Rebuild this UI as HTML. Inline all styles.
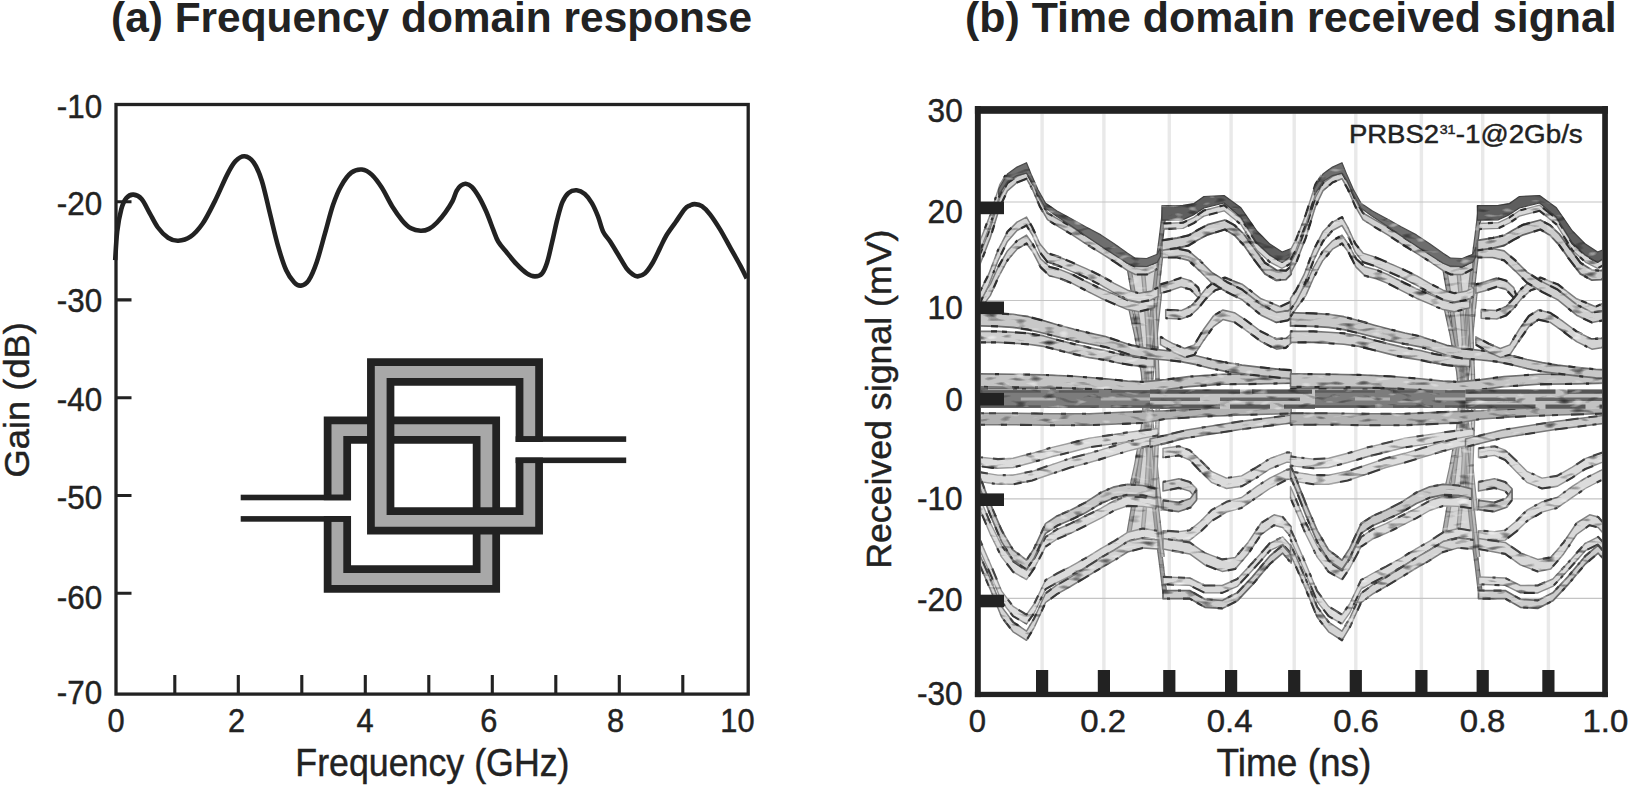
<!DOCTYPE html>
<html><head><meta charset="utf-8"><title>Frequency and time domain response</title>
<style>
html,body{margin:0;padding:0;background:#fff;}
body{width:1629px;height:786px;overflow:hidden;}
svg{display:block;font-family:"Liberation Sans",Arial,Helvetica,sans-serif;}
</style></head><body>
<svg width="1629" height="786" viewBox="0 0 1629 786">
<rect width="1629" height="786" fill="#fff"/>

<text transform="translate(111.08,32.40) scale(0.9923,1)" font-size="42.76" font-weight="bold" fill="#222222">(a) Frequency domain response</text>
<text transform="translate(965.06,32.40) scale(1.0025,1)" font-size="42.76" font-weight="bold" fill="#222222">(b) Time domain received signal</text>
<g fill="none" stroke="#222222" stroke-width="3.3">
<rect x="116.0" y="104.5" width="632.2" height="589.6"/>
<path d="M174.8,694.1V675.1M238.3,694.1V675.1M301.8,694.1V675.1M365.3,694.1V675.1M428.8,694.1V675.1M492.3,694.1V675.1M555.8,694.1V675.1M619.3,694.1V675.1M682.8,694.1V675.1M116.0,201.8H131.5M116.0,299.9H131.5M116.0,397.8H131.5M116.0,495.5H131.5M116.0,593.3H131.5" stroke-width="3.1"/>
</g>
<text transform="translate(56.81,117.90) scale(0.9550,1)" font-size="32.87" stroke="#222222" stroke-width="0.45" fill="#222222">-10</text>
<text transform="translate(56.81,214.90) scale(0.9550,1)" font-size="32.87" stroke="#222222" stroke-width="0.45" fill="#222222">-20</text>
<text transform="translate(56.81,312.40) scale(0.9550,1)" font-size="32.87" stroke="#222222" stroke-width="0.45" fill="#222222">-30</text>
<text transform="translate(56.81,411.30) scale(0.9550,1)" font-size="32.87" stroke="#222222" stroke-width="0.45" fill="#222222">-40</text>
<text transform="translate(56.81,508.70) scale(0.9550,1)" font-size="32.87" stroke="#222222" stroke-width="0.45" fill="#222222">-50</text>
<text transform="translate(56.81,608.80) scale(0.9550,1)" font-size="32.87" stroke="#222222" stroke-width="0.45" fill="#222222">-60</text>
<text transform="translate(56.81,704.00) scale(0.9550,1)" font-size="32.87" stroke="#222222" stroke-width="0.45" fill="#222222">-70</text>
<text transform="translate(107.41,731.80) scale(0.9500,1)" font-size="32.44" stroke="#222222" stroke-width="0.45" fill="#222222">0</text>
<text transform="translate(227.95,731.80) scale(0.9500,1)" font-size="32.44" stroke="#222222" stroke-width="0.45" fill="#222222">2</text>
<text transform="translate(356.53,731.80) scale(0.9500,1)" font-size="32.44" stroke="#222222" stroke-width="0.45" fill="#222222">4</text>
<text transform="translate(480.33,731.80) scale(0.9500,1)" font-size="32.44" stroke="#222222" stroke-width="0.45" fill="#222222">6</text>
<text transform="translate(606.95,731.80) scale(0.9500,1)" font-size="32.44" stroke="#222222" stroke-width="0.45" fill="#222222">8</text>
<text transform="translate(720.32,731.80) scale(0.9500,1)" font-size="32.44" stroke="#222222" stroke-width="0.45" fill="#222222">10</text>
<text transform="translate(295.35,776.40) scale(0.9105,1)" font-size="39.27" stroke="#222222" stroke-width="0.45" fill="#222222">Frequency (GHz)</text>
<text transform="translate(28.70,477.62) rotate(-90) scale(1.0552,1)" font-size="34.47" stroke="#222222" stroke-width="0.45" fill="#222222">Gain (dB)</text>
<path d="M115.2,260.1C115.5,255.4 116.2,240.1 117.2,231.6C118.2,223.1 119.8,214.8 121.3,209.2C122.8,203.6 124.4,200.4 126.4,198.0C128.4,195.6 131.0,194.4 133.5,194.6C136.0,194.8 138.9,195.9 141.6,199.0C144.3,202.1 147.1,208.6 149.8,213.3C152.5,218.1 154.9,223.4 157.9,227.5C160.9,231.6 164.7,235.5 168.1,237.7C171.5,239.9 174.6,241.0 178.3,240.8C182.0,240.6 186.4,239.6 190.5,236.7C194.6,233.8 198.6,229.4 202.7,223.5C206.8,217.6 210.8,209.2 214.9,201.1C219.0,192.9 223.8,181.2 227.2,174.6C230.6,168.0 232.4,164.4 235.3,161.4C238.2,158.4 241.4,156.1 244.5,156.3C247.6,156.5 250.7,158.3 253.6,162.4C256.5,166.5 259.1,172.2 261.8,180.7C264.5,189.2 267.2,202.4 269.9,213.3C272.6,224.2 275.3,236.4 278.0,245.9C280.7,255.4 283.5,264.2 286.2,270.3C288.9,276.4 291.9,279.9 294.3,282.5C296.7,285.1 298.4,285.9 300.8,285.6C303.2,285.3 306.0,284.4 308.6,280.5C311.2,276.6 314.0,270.0 316.7,262.2C319.4,254.4 322.2,243.2 324.9,233.7C327.6,224.2 330.3,213.1 333.0,205.1C335.7,197.1 338.1,191.2 341.2,185.8C344.2,180.4 347.9,175.3 351.3,172.6C354.8,169.9 358.5,169.2 361.9,169.5C365.3,169.8 368.4,171.5 371.7,174.6C375.0,177.7 378.5,182.5 381.9,187.8C385.3,193.1 388.7,200.8 392.1,206.2C395.5,211.6 399.1,216.7 402.2,220.4C405.3,224.1 407.9,226.6 411.0,228.3C414.1,230.0 417.6,230.7 420.6,230.8C423.6,230.9 426.3,230.3 429.0,228.9C431.7,227.5 434.3,225.3 437.0,222.5C439.7,219.7 442.8,215.9 445.4,212.3C448.0,208.7 450.6,204.7 452.5,201.1C454.4,197.5 455.2,193.4 456.6,190.9C458.0,188.4 459.1,187.0 460.6,185.8C462.1,184.6 463.8,183.6 465.7,183.8C467.6,184.0 469.6,184.6 471.8,186.8C474.0,189.0 476.6,192.9 479.0,197.0C481.4,201.1 483.7,205.9 486.1,211.3C488.5,216.7 491.2,224.5 493.2,229.6C495.2,234.7 496.1,238.1 498.3,241.8C500.5,245.5 503.3,248.3 506.4,252.0C509.4,255.7 513.2,260.6 516.6,264.2C520.0,267.8 523.8,271.4 526.8,273.4C529.8,275.4 532.3,276.4 534.9,276.4C537.5,276.4 540.0,275.8 542.1,273.4C544.2,271.0 545.5,267.5 547.2,262.2C548.9,256.9 550.5,248.9 552.2,241.8C553.9,234.7 555.6,226.0 557.3,219.4C559.0,212.8 560.5,206.5 562.4,202.1C564.3,197.7 566.1,194.9 568.5,192.9C570.9,190.9 574.0,190.1 576.7,190.3C579.4,190.5 582.3,191.9 584.8,194.0C587.3,196.1 589.7,199.4 591.9,203.1C594.1,206.8 596.1,211.6 598.0,216.3C599.9,221.1 601.1,227.3 603.1,231.6C605.1,235.8 607.8,237.9 610.3,241.8C612.8,245.7 615.7,250.6 618.4,255.0C621.1,259.4 624.1,265.1 626.5,268.3C628.9,271.5 630.8,273.0 632.7,274.4C634.6,275.8 635.7,276.6 637.7,276.4C639.7,276.2 642.4,275.8 644.9,273.4C647.4,271.0 650.5,266.4 653.0,262.2C655.5,257.9 657.9,252.3 660.1,247.9C662.3,243.5 663.7,239.9 666.2,235.7C668.8,231.5 672.3,226.9 675.4,222.5C678.5,218.1 682.2,212.0 684.6,209.2C687.0,206.4 688.0,206.4 689.7,205.6C691.4,204.8 692.7,204.0 694.7,204.1C696.7,204.2 699.4,204.5 701.9,206.2C704.4,207.9 707.0,210.4 710.0,214.3C713.0,218.2 716.8,224.0 720.2,229.6C723.6,235.2 727.0,241.8 730.4,247.9C733.8,254.0 737.9,261.1 740.6,266.2C743.3,271.3 745.7,276.4 746.7,278.4" fill="none" stroke="#222222" stroke-width="4.6" stroke-linejoin="round"/>
<path d="M337.4,500.3V430.05H486.4V579.0H337.4V516.1" fill="none" stroke="#222222" stroke-width="27.3" stroke-linejoin="miter"/>
<path d="M337.4,494.7V430.05H486.4V579.0H337.4V521.7" fill="none" stroke="#a8a8a8" stroke-width="11.8" stroke-linejoin="miter"/>
<rect x="240.7" y="494.7" width="110.3" height="5.6" fill="#222222"/>
<rect x="240.7" y="516.1" width="110.3" height="5.6" fill="#222222"/>
<path d="M529.3,441.90000000000003V372.0H380.7V520.9H529.3V457.5" fill="none" stroke="#222222" stroke-width="27.3" stroke-linejoin="miter"/>
<path d="M529.3,436.3V372.0H380.7V520.9H529.3V463.1" fill="none" stroke="#a8a8a8" stroke-width="11.8" stroke-linejoin="miter"/>
<rect x="515.6" y="436.3" width="110.6" height="5.6" fill="#222222"/>
<rect x="515.6" y="457.5" width="110.6" height="5.6" fill="#222222"/>
<clipPath id="eyeclip"><rect x="980.8" y="113.8" width="621.4000000000001" height="578.0"/></clipPath>
<filter id="soft" filterUnits="userSpaceOnUse" x="975" y="106" width="634" height="592" color-interpolation-filters="sRGB"><feGaussianBlur in="SourceGraphic" stdDeviation="0.6" result="b"/><feTurbulence type="fractalNoise" baseFrequency="0.07 0.22" numOctaves="1" seed="7" result="n"/><feColorMatrix in="n" type="matrix" values="0 0 0 0 0.1  0 0 0 0 0.1  0 0 0 0 0.1  3.2 0 0 0 -1.85" result="dk0"/><feComposite in="dk0" in2="b" operator="in" result="dk"/><feColorMatrix in="n" type="matrix" values="0 0 0 0 1  0 0 0 0 1  0 0 0 0 1  0 -3.2 0 0 1.2" result="lt0"/><feComposite in="lt0" in2="b" operator="in" result="lt"/><feMerge><feMergeNode in="b"/><feMergeNode in="dk"/><feMergeNode in="lt"/></feMerge></filter>
<path d="M1042.1,113.8V691.8M1103.9,113.8V691.8M1169.3,113.8V691.8M1231.1,113.8V691.8M1294.2,113.8V691.8M1355.8,113.8V691.8M1421.4,113.8V691.8M1482.7,113.8V691.8M1548.4,113.8V691.8" fill="none" stroke="#e9e9e9" stroke-width="3.4"/>
<path d="M980.8,202.0H1602.2M980.8,300.5H1602.2M980.8,399.5H1602.2M980.8,498.8H1602.2M980.8,598.3H1602.2" fill="none" stroke="#c4c4c4" stroke-width="1.2"/>
<g clip-path="url(#eyeclip)"><g filter="url(#soft)" stroke-linejoin="round">
<path d="M1164.6,591.2L1161.5,565.3L1158.5,542.4L1155.4,515.7L1151.6,481.4L1147.8,447.1L1145.1,412.7L1143.2,393.6" fill="none" stroke="#6f6f6f" stroke-width="5.0"/>
<path d="M1164.6,591.2L1161.5,565.3L1158.5,542.4L1155.4,515.7L1151.6,481.4L1147.8,447.1L1145.1,412.7L1143.2,393.6" fill="none" stroke="#9c9c9c" stroke-width="2.6"/>
<path d="M1162.7,556.9L1159.6,531.0L1156.6,504.3L1152.8,469.9L1149.3,435.6L1146.7,393.6" fill="none" stroke="#848484" stroke-width="4.5"/>
<path d="M1162.7,556.9L1159.6,531.0L1156.6,504.3L1152.8,469.9L1149.3,435.6L1146.7,393.6" fill="none" stroke="#bcbcbc" stroke-width="2.1"/>
<path d="M1160.4,511.1L1157.3,481.4L1154.3,450.9L1151.2,420.3L1149.7,393.6" fill="none" stroke="#8c8c8c" stroke-width="4.5"/>
<path d="M1160.4,511.1L1157.3,481.4L1154.3,450.9L1151.2,420.3L1149.7,393.6" fill="none" stroke="#c6c6c6" stroke-width="2.1"/>
<path d="M1127.6,540.5L1132.5,511.9L1137.5,481.4L1142.1,443.2L1145.1,412.7L1146.7,393.6" fill="none" stroke="#767676" stroke-width="5.0"/>
<path d="M1127.6,540.5L1132.5,511.9L1137.5,481.4L1142.1,443.2L1145.1,412.7L1146.7,393.6" fill="none" stroke="#aeaeae" stroke-width="2.6"/>
<path d="M1127.6,504.3L1136.0,466.1L1142.8,428.0L1145.9,393.6" fill="none" stroke="#858585" stroke-width="4.5"/>
<path d="M1127.6,504.3L1136.0,466.1L1142.8,428.0L1145.9,393.6" fill="none" stroke="#bfbfbf" stroke-width="2.1"/>
<path d="M1142.8,531.0L1145.9,496.6L1148.9,450.9L1151.2,393.6" fill="none" stroke="#909090" stroke-width="4.5"/>
<path d="M1142.8,531.0L1145.9,496.6L1148.9,450.9L1151.2,393.6" fill="none" stroke="#c9c9c9" stroke-width="2.1"/>
<path d="M1154.3,496.6L1155.8,466.1L1157.3,428.0L1158.1,393.6" fill="none" stroke="#909090" stroke-width="4.5"/>
<path d="M1154.3,496.6L1155.8,466.1L1157.3,428.0L1158.1,393.6" fill="none" stroke="#c9c9c9" stroke-width="2.1"/>
<path d="M1127.6,540.5L1158.5,542.4L1154.3,496.6L1151.2,450.9L1148.6,393.6L1144.8,393.6L1142.1,443.2L1137.5,481.4L1132.5,511.9Z" fill="#acacac" fill-opacity="0.5"/>
<path d="M975.0,413.3L1013.1,413.3L1051.3,413.7L1089.4,413.7L1127.6,412.1L1142.8,411.4L1165.7,410.8L1203.9,408.5L1242.0,407.0L1291.2,405.5L1291.2,413.5L1242.0,415.0L1203.9,416.6L1165.7,418.9L1142.8,422.9L1127.6,423.6L1089.4,425.2L1051.3,425.2L1013.1,424.8L975.0,424.8Z" fill="#b2b2b2" stroke="#787878" stroke-width="1.5"/>
<path d="M975.0,413.3L1013.1,413.3L1051.3,413.7L1089.4,413.7L1127.6,412.1L1142.8,411.4L1165.7,410.8L1203.9,408.5L1242.0,407.0L1291.2,405.5" fill="none" stroke="#444444" stroke-width="2.1" stroke-dasharray="9 5 7 16 6 13 12 18 5 16 4 18 7 22" stroke-dashoffset="0"/>
<path d="M975.0,424.8L1013.1,424.8L1051.3,425.2L1089.4,425.2L1127.6,423.6L1142.8,422.9L1165.7,418.9L1203.9,416.6L1242.0,415.0L1291.2,413.5" fill="none" stroke="#3a3a3a" stroke-width="2.1" stroke-dasharray="9 5 7 16 6 13 12 18 5 16 4 18 7 22" stroke-dashoffset="11"/>
<path d="M975.0,456.4L980.7,457.2L997.9,459.1L1013.1,458.3L1032.2,453.3L1051.3,447.6L1070.4,443.0L1089.4,438.1L1108.5,435.4L1127.6,432.4L1142.8,430.5L1158.1,428.5L1158.1,437.7L1142.8,439.7L1127.6,441.6L1108.5,444.6L1089.4,447.3L1070.4,452.2L1051.3,456.8L1032.2,462.5L1013.1,467.5L997.9,468.3L980.7,466.4L975.0,465.6Z" fill="#dddddd" stroke="#9c9c9c" stroke-width="1.4"/>
<path d="M975.0,456.4L980.7,457.2L997.9,459.1L1013.1,458.3L1032.2,453.3L1051.3,447.6L1070.4,443.0L1089.4,438.1L1108.5,435.4L1127.6,432.4L1142.8,430.5L1158.1,428.5" fill="none" stroke="#444444" stroke-width="2.1" stroke-dasharray="13 10 12 22 5 16 4 21 9 23 11 10 5 11" stroke-dashoffset="5"/>
<path d="M975.0,465.6L980.7,466.4L997.9,468.3L1013.1,467.5L1032.2,462.5L1051.3,456.8L1070.4,452.2L1089.4,447.3L1108.5,444.6L1127.6,441.6L1142.8,439.7L1158.1,437.7" fill="none" stroke="#3a3a3a" stroke-width="2.1" stroke-dasharray="13 10 12 22 5 16 4 21 9 23 11 10 5 11" stroke-dashoffset="16"/>
<path d="M975.0,471.7L980.7,472.4L997.9,475.1L1013.1,475.1L1032.2,471.3L1051.3,464.8L1070.4,458.3L1089.4,453.3L1108.5,447.6L1127.6,441.9L1142.8,438.1L1158.1,435.4L1158.1,444.6L1142.8,447.3L1127.6,451.1L1108.5,456.8L1089.4,462.5L1070.4,467.5L1051.3,474.0L1032.2,480.5L1013.1,484.3L997.9,484.3L980.7,481.6L975.0,480.9Z" fill="#dddddd" stroke="#9c9c9c" stroke-width="1.4"/>
<path d="M975.0,471.7L980.7,472.4L997.9,475.1L1013.1,475.1L1032.2,471.3L1051.3,464.8L1070.4,458.3L1089.4,453.3L1108.5,447.6L1127.6,441.9L1142.8,438.1L1158.1,435.4" fill="none" stroke="#444444" stroke-width="2.1" stroke-dasharray="4 11 8 15 3 19 8 5 11 18 3 5 13 10" stroke-dashoffset="10"/>
<path d="M975.0,480.9L980.7,481.6L997.9,484.3L1013.1,484.3L1032.2,480.5L1051.3,474.0L1070.4,467.5L1089.4,462.5L1108.5,456.8L1127.6,451.1L1142.8,447.3L1158.1,444.6" fill="none" stroke="#3a3a3a" stroke-width="2.1" stroke-dasharray="4 11 8 15 3 19 8 5 11 18 3 5 13 10" stroke-dashoffset="21"/>
<path d="M1150.0,439.0L1186.7,430.0L1239.7,421.5L1291.2,415.0L1291.2,423.0L1239.7,429.5L1186.7,438.0L1150.0,447.0Z" fill="#cccccc" stroke="#787878" stroke-width="1.5"/>
<path d="M1150.0,439.0L1186.7,430.0L1239.7,421.5L1291.2,415.0" fill="none" stroke="#444444" stroke-width="2.1" stroke-dasharray="12 10 7 8 13 18 4 26 12 10 9 12 11 24" stroke-dashoffset="15"/>
<path d="M1150.0,447.0L1186.7,438.0L1239.7,429.5L1291.2,423.0" fill="none" stroke="#3a3a3a" stroke-width="2.1" stroke-dasharray="12 10 7 8 13 18 4 26 12 10 9 12 11 24" stroke-dashoffset="26"/>
<path d="M975.0,486.5L980.7,499.9L990.3,522.8L1001.7,545.6L1013.1,561.5L1026.5,570.4L1034.1,558.7L1045.6,537.0L1057.0,529.3L1070.4,523.6L1085.6,516.0L1100.9,508.4L1114.2,500.7L1127.6,496.2L1142.8,497.2L1156.2,499.1L1156.2,508.3L1142.8,506.4L1127.6,505.9L1114.2,510.5L1100.9,518.1L1085.6,525.8L1070.4,533.4L1057.0,539.1L1045.6,546.7L1034.1,568.5L1026.5,579.6L1013.1,571.8L1001.7,557.1L990.3,534.3L980.7,511.4L975.0,498.0Z" fill="#dcdcdc" stroke="#989898" stroke-width="1.4"/>
<path d="M975.0,486.5L980.7,499.9L990.3,522.8L1001.7,545.6L1013.1,561.5L1026.5,570.4L1034.1,558.7L1045.6,537.0L1057.0,529.3L1070.4,523.6L1085.6,516.0L1100.9,508.4L1114.2,500.7L1127.6,496.2L1142.8,497.2L1156.2,499.1" fill="none" stroke="#444444" stroke-width="2.1" stroke-dasharray="8 6 6 8 10 11 11 26 5 13 12 18 11 9" stroke-dashoffset="20"/>
<path d="M975.0,498.0L980.7,511.4L990.3,534.3L1001.7,557.1L1013.1,571.8L1026.5,579.6L1034.1,568.5L1045.6,546.7L1057.0,539.1L1070.4,533.4L1085.6,525.8L1100.9,518.1L1114.2,510.5L1127.6,505.9L1142.8,506.4L1156.2,508.3" fill="none" stroke="#3a3a3a" stroke-width="2.1" stroke-dasharray="8 6 6 8 10 11 11 26 5 13 12 18 11 9" stroke-dashoffset="31"/>
<path d="M975.0,465.5L980.7,478.9L990.3,503.7L1001.7,530.4L1013.1,550.0L1026.5,560.2L1034.1,548.4L1045.6,523.6L1057.0,516.0L1070.4,510.3L1085.6,502.4L1100.9,492.5L1114.2,486.8L1127.6,484.4L1142.8,485.5L1156.2,488.8L1156.2,498.0L1142.8,495.3L1127.6,494.8L1114.2,497.7L1100.9,503.5L1085.6,512.7L1070.4,520.0L1057.0,525.8L1045.6,533.4L1034.1,558.2L1026.5,569.4L1013.1,560.4L1001.7,541.9L990.3,515.2L980.7,490.4L975.0,477.0Z" fill="#c8c8c8" stroke="#6e6e6e" stroke-width="1.7"/>
<path d="M975.0,465.5L980.7,478.9L990.3,503.7L1001.7,530.4L1013.1,550.0L1026.5,560.2L1034.1,548.4L1045.6,523.6L1057.0,516.0L1070.4,510.3L1085.6,502.4L1100.9,492.5L1114.2,486.8L1127.6,484.4L1142.8,485.5L1156.2,488.8" fill="none" stroke="#444444" stroke-width="2.1" stroke-dasharray="3 10 7 5 5 12 8 22 8 10 9 15 3 6" stroke-dashoffset="25"/>
<path d="M975.0,477.0L980.7,490.4L990.3,515.2L1001.7,541.9L1013.1,560.4L1026.5,569.4L1034.1,558.2L1045.6,533.4L1057.0,525.8L1070.4,520.0L1085.6,512.7L1100.9,503.5L1114.2,497.7L1127.6,494.8L1142.8,495.3L1156.2,498.0" fill="none" stroke="#3a3a3a" stroke-width="2.1" stroke-dasharray="3 10 7 5 5 12 8 22 8 10 9 15 3 6" stroke-dashoffset="36"/>
<path d="M1163.0,448.4L1178.9,446.2L1189.7,450.2L1200.6,460.5L1211.4,471.3L1226.5,478.1L1241.6,475.9L1256.8,467.2L1269.8,458.6L1287.1,452.4L1291.2,452.6L1291.2,462.4L1287.1,462.2L1269.8,469.0L1256.8,477.6L1241.6,486.3L1226.5,488.5L1211.4,482.3L1200.6,471.5L1189.7,460.0L1178.9,455.4L1163.0,457.6Z" fill="#dcdcdc" stroke="#929292" stroke-width="1.4"/>
<path d="M1163.0,448.4L1178.9,446.2L1189.7,450.2L1200.6,460.5L1211.4,471.3L1226.5,478.1L1241.6,475.9L1256.8,467.2L1269.8,458.6L1287.1,452.4L1291.2,452.6" fill="none" stroke="#444444" stroke-width="2.1" stroke-dasharray="3 19 4 17 5 5 8 11 13 21 4 20 12 6" stroke-dashoffset="30"/>
<path d="M1163.0,457.6L1178.9,455.4L1189.7,460.0L1200.6,471.5L1211.4,482.3L1226.5,488.5L1241.6,486.3L1256.8,477.6L1269.8,469.0L1287.1,462.2L1291.2,462.4" fill="none" stroke="#3a3a3a" stroke-width="2.1" stroke-dasharray="3 19 4 17 5 5 8 11 13 21 4 20 12 6" stroke-dashoffset="41"/>
<path d="M1163.0,481.9L1178.9,478.7L1189.7,481.9L1196.5,488.8L1196.5,499.2L1189.7,491.1L1178.9,487.9L1163.0,491.1Z" fill="#cecece" stroke="#7a7a7a" stroke-width="1.5"/>
<path d="M1163.0,481.9L1178.9,478.7L1189.7,481.9L1196.5,488.8" fill="none" stroke="#444444" stroke-width="2.1" stroke-dasharray="3 25 10 15 12 18 11 11 8 26 4 22 5 7" stroke-dashoffset="35"/>
<path d="M1163.0,491.1L1178.9,487.9L1189.7,491.1L1196.5,499.2" fill="none" stroke="#3a3a3a" stroke-width="2.1" stroke-dasharray="3 25 10 15 12 18 11 11 8 26 4 22 5 7" stroke-dashoffset="46"/>
<path d="M1163.0,500.4L1178.9,502.4L1190.5,498.4L1196.5,489.8L1196.5,500.2L1190.5,507.6L1178.9,511.6L1163.0,509.6Z" fill="#c4c4c4" stroke="#6c6c6c" stroke-width="1.6"/>
<path d="M1163.0,500.4L1178.9,502.4L1190.5,498.4L1196.5,489.8" fill="none" stroke="#444444" stroke-width="2.1" stroke-dasharray="10 10 8 12 6 10 5 14 5 22 4 21 3 9" stroke-dashoffset="40"/>
<path d="M1163.0,509.6L1178.9,511.6L1190.5,507.6L1196.5,500.2" fill="none" stroke="#3a3a3a" stroke-width="2.1" stroke-dasharray="10 10 8 12 6 10 5 14 5 22 4 21 3 9" stroke-dashoffset="51"/>
<path d="M1163.0,530.6L1178.9,531.6L1189.7,530.3L1200.6,521.3L1211.4,510.2L1226.5,501.8L1241.6,497.5L1256.8,486.4L1269.8,478.1L1287.1,469.7L1291.2,469.1L1291.2,478.9L1287.1,479.5L1269.8,488.5L1256.8,497.4L1241.6,507.9L1226.5,512.2L1211.4,521.2L1200.6,531.7L1189.7,540.1L1178.9,540.8L1163.0,539.8Z" fill="#dcdcdc" stroke="#929292" stroke-width="1.4"/>
<path d="M1163.0,530.6L1178.9,531.6L1189.7,530.3L1200.6,521.3L1211.4,510.2L1226.5,501.8L1241.6,497.5L1256.8,486.4L1269.8,478.1L1287.1,469.7L1291.2,469.1" fill="none" stroke="#444444" stroke-width="2.1" stroke-dasharray="3 26 10 10 12 8 7 21 9 7 10 18 5 12" stroke-dashoffset="45"/>
<path d="M1163.0,539.8L1178.9,540.8L1189.7,540.1L1200.6,531.7L1211.4,521.2L1226.5,512.2L1241.6,507.9L1256.8,497.4L1269.8,488.5L1287.1,479.5L1291.2,478.9" fill="none" stroke="#3a3a3a" stroke-width="2.1" stroke-dasharray="3 26 10 10 12 8 7 21 9 7 10 18 5 12" stroke-dashoffset="56"/>
<path d="M1163.0,538.6L1189.7,542.4L1204.9,552.9L1222.2,559.4L1235.2,557.5L1248.1,542.4L1261.1,523.0L1274.1,514.8L1282.7,517.0L1291.2,526.8L1291.2,537.2L1282.7,527.4L1274.1,525.2L1261.1,534.5L1248.1,553.9L1235.2,569.0L1222.2,571.4L1204.9,564.9L1189.7,553.9L1163.0,549.0Z" fill="#d8d8d8" stroke="#848484" stroke-width="1.5"/>
<path d="M1163.0,538.6L1189.7,542.4L1204.9,552.9L1222.2,559.4L1235.2,557.5L1248.1,542.4L1261.1,523.0L1274.1,514.8L1282.7,517.0L1291.2,526.8" fill="none" stroke="#444444" stroke-width="2.1" stroke-dasharray="5 5 8 15 5 17 5 10 12 26 11 12 9 21" stroke-dashoffset="50"/>
<path d="M1163.0,549.0L1189.7,553.9L1204.9,564.9L1222.2,571.4L1235.2,569.0L1248.1,553.9L1261.1,534.5L1274.1,525.2L1282.7,527.4L1291.2,537.2" fill="none" stroke="#3a3a3a" stroke-width="2.1" stroke-dasharray="5 5 8 15 5 17 5 10 12 26 11 12 9 21" stroke-dashoffset="61"/>
<path d="M975.0,529.1L980.7,541.6L990.3,563.8L1001.7,591.2L1013.1,606.4L1026.5,614.7L1034.1,604.0L1045.6,580.0L1057.0,573.5L1070.4,566.6L1085.6,558.2L1100.9,548.7L1114.2,541.1L1127.6,532.3L1142.8,528.5L1157.3,530.8L1157.3,540.0L1142.8,537.7L1127.6,541.5L1114.2,550.3L1100.9,557.9L1085.6,567.4L1070.4,575.8L1057.0,582.7L1045.6,589.2L1034.1,613.2L1026.5,623.9L1013.1,616.2L1001.7,601.6L990.3,574.1L980.7,552.0L975.0,539.4Z" fill="#dcdcdc" stroke="#949494" stroke-width="1.4"/>
<path d="M975.0,529.1L980.7,541.6L990.3,563.8L1001.7,591.2L1013.1,606.4L1026.5,614.7L1034.1,604.0L1045.6,580.0L1057.0,573.5L1070.4,566.6L1085.6,558.2L1100.9,548.7L1114.2,541.1L1127.6,532.3L1142.8,528.5L1157.3,530.8" fill="none" stroke="#444444" stroke-width="2.1" stroke-dasharray="9 15 4 7 13 19 6 25 12 23 6 9 11 12" stroke-dashoffset="55"/>
<path d="M975.0,539.4L980.7,552.0L990.3,574.1L1001.7,601.6L1013.1,616.2L1026.5,623.9L1034.1,613.2L1045.6,589.2L1057.0,582.7L1070.4,575.8L1085.6,567.4L1100.9,557.9L1114.2,550.3L1127.6,541.5L1142.8,537.7L1157.3,540.0" fill="none" stroke="#3a3a3a" stroke-width="2.1" stroke-dasharray="9 15 4 7 13 19 6 25 12 23 6 9 11 12" stroke-dashoffset="66"/>
<path d="M975.0,544.3L980.7,556.9L990.3,579.0L1001.7,606.9L1013.1,622.0L1026.5,631.1L1034.1,618.5L1045.6,593.3L1057.0,584.9L1070.4,577.3L1085.6,567.5L1100.9,557.7L1114.2,550.0L1127.6,541.6L1142.8,538.1L1158.1,539.9L1158.1,549.1L1142.8,547.9L1127.6,552.0L1114.2,560.4L1100.9,568.0L1085.6,577.3L1070.4,586.5L1057.0,594.1L1045.6,602.5L1034.1,627.7L1026.5,640.3L1013.1,631.8L1001.7,617.2L990.3,589.4L980.7,567.3L975.0,554.7Z" fill="#d4d4d4" stroke="#7e7e7e" stroke-width="1.5"/>
<path d="M975.0,544.3L980.7,556.9L990.3,579.0L1001.7,606.9L1013.1,622.0L1026.5,631.1L1034.1,618.5L1045.6,593.3L1057.0,584.9L1070.4,577.3L1085.6,567.5L1100.9,557.7L1114.2,550.0L1127.6,541.6L1142.8,538.1L1158.1,539.9" fill="none" stroke="#444444" stroke-width="2.1" stroke-dasharray="8 23 7 9 11 21 13 6 7 18 3 16 11 22" stroke-dashoffset="60"/>
<path d="M975.0,554.7L980.7,567.3L990.3,589.4L1001.7,617.2L1013.1,631.8L1026.5,640.3L1034.1,627.7L1045.6,602.5L1057.0,594.1L1070.4,586.5L1085.6,577.3L1100.9,568.0L1114.2,560.4L1127.6,552.0L1142.8,547.9L1158.1,549.1" fill="none" stroke="#3a3a3a" stroke-width="2.1" stroke-dasharray="8 23 7 9 11 21 13 6 7 18 3 16 11 22" stroke-dashoffset="71"/>
<path d="M1163.0,576.9L1189.7,578.0L1204.9,585.5L1222.2,585.5L1237.3,579.0L1252.5,562.8L1269.8,543.3L1282.7,536.9L1291.2,546.3L1291.2,553.7L1282.7,544.3L1269.8,550.7L1252.5,570.2L1237.3,586.4L1222.2,592.9L1204.9,592.9L1189.7,585.4L1163.0,584.3Z" fill="#dadada" stroke="#8a8a8a" stroke-width="1.4"/>
<path d="M1163.0,576.9L1189.7,578.0L1204.9,585.5L1222.2,585.5L1237.3,579.0L1252.5,562.8L1269.8,543.3L1282.7,536.9L1291.2,546.3" fill="none" stroke="#444444" stroke-width="2.1" stroke-dasharray="12 8 13 7 5 16 13 6 7 19 13 16 9 14" stroke-dashoffset="65"/>
<path d="M1163.0,584.3L1189.7,585.4L1204.9,592.9L1222.2,592.9L1237.3,586.4L1252.5,570.2L1269.8,550.7L1282.7,544.3L1291.2,553.7" fill="none" stroke="#3a3a3a" stroke-width="2.1" stroke-dasharray="12 8 13 7 5 16 13 6 7 19 13 16 9 14" stroke-dashoffset="76"/>
<path d="M1163.0,590.6L1189.7,590.6L1204.9,599.3L1222.2,600.4L1237.3,592.8L1252.5,576.6L1269.8,556.0L1282.7,545.2L1291.2,555.0L1291.2,563.0L1282.7,553.2L1269.8,564.0L1252.5,584.6L1237.3,600.8L1222.2,608.4L1204.9,607.3L1189.7,598.6L1163.0,598.6Z" fill="#cccccc" stroke="#6a6a6a" stroke-width="1.7"/>
<path d="M1163.0,590.6L1189.7,590.6L1204.9,599.3L1222.2,600.4L1237.3,592.8L1252.5,576.6L1269.8,556.0L1282.7,545.2L1291.2,555.0" fill="none" stroke="#444444" stroke-width="2.1" stroke-dasharray="10 24 7 14 10 20 3 13 10 5 6 16 5 5" stroke-dashoffset="70"/>
<path d="M1163.0,598.6L1189.7,598.6L1204.9,607.3L1222.2,608.4L1237.3,600.8L1252.5,584.6L1269.8,564.0L1282.7,553.2L1291.2,563.0" fill="none" stroke="#3a3a3a" stroke-width="2.1" stroke-dasharray="10 24 7 14 10 20 3 13 10 5 6 16 5 5" stroke-dashoffset="81"/>
<path d="M1164.6,208.8L1161.5,234.7L1158.5,257.6L1155.4,284.3L1151.6,318.6L1147.8,352.9L1145.1,387.3L1143.2,406.4" fill="none" stroke="#565656" stroke-width="5.0"/>
<path d="M1164.6,208.8L1161.5,234.7L1158.5,257.6L1155.4,284.3L1151.6,318.6L1147.8,352.9L1145.1,387.3L1143.2,406.4" fill="none" stroke="#8a8a8a" stroke-width="2.6"/>
<path d="M1162.7,243.1L1159.6,269.0L1156.6,295.7L1152.8,330.1L1149.3,364.4L1146.7,406.4" fill="none" stroke="#6e6e6e" stroke-width="4.5"/>
<path d="M1162.7,243.1L1159.6,269.0L1156.6,295.7L1152.8,330.1L1149.3,364.4L1146.7,406.4" fill="none" stroke="#b0b0b0" stroke-width="2.1"/>
<path d="M1160.4,288.9L1157.3,318.6L1154.3,349.1L1151.2,379.7L1149.7,406.4" fill="none" stroke="#787878" stroke-width="4.5"/>
<path d="M1160.4,288.9L1157.3,318.6L1154.3,349.1L1151.2,379.7L1149.7,406.4" fill="none" stroke="#bcbcbc" stroke-width="2.1"/>
<path d="M1127.6,259.5L1132.5,288.1L1137.5,318.6L1142.1,356.8L1145.1,387.3L1146.7,406.4" fill="none" stroke="#5e5e5e" stroke-width="5.0"/>
<path d="M1127.6,259.5L1132.5,288.1L1137.5,318.6L1142.1,356.8L1145.1,387.3L1146.7,406.4" fill="none" stroke="#a0a0a0" stroke-width="2.6"/>
<path d="M1127.6,295.7L1136.0,333.9L1142.8,372.0L1145.9,406.4" fill="none" stroke="#707070" stroke-width="4.5"/>
<path d="M1127.6,295.7L1136.0,333.9L1142.8,372.0L1145.9,406.4" fill="none" stroke="#b4b4b4" stroke-width="2.1"/>
<path d="M1142.8,269.0L1145.9,303.4L1148.9,349.1L1151.2,406.4" fill="none" stroke="#7c7c7c" stroke-width="4.5"/>
<path d="M1142.8,269.0L1145.9,303.4L1148.9,349.1L1151.2,406.4" fill="none" stroke="#c0c0c0" stroke-width="2.1"/>
<path d="M1154.3,303.4L1155.8,333.9L1157.3,372.0L1158.1,406.4" fill="none" stroke="#7c7c7c" stroke-width="4.5"/>
<path d="M1154.3,303.4L1155.8,333.9L1157.3,372.0L1158.1,406.4" fill="none" stroke="#c0c0c0" stroke-width="2.1"/>
<path d="M1127.6,259.5L1158.5,257.6L1154.3,303.4L1151.2,349.1L1148.6,406.4L1144.8,406.4L1142.1,356.8L1137.5,318.6L1132.5,288.1Z" fill="#acacac" fill-opacity="0.5"/>
<path d="M975.0,388.4L1051.3,388.4L1127.6,388.4L1142.8,388.4L1142.8,395.4L1127.6,395.4L1051.3,395.4L975.0,395.4Z" fill="#aaaaaa" stroke="#686868" stroke-width="1.4"/>
<path d="M975.0,388.4L1051.3,388.4L1127.6,388.4L1142.8,388.4" fill="none" stroke="#303030" stroke-width="2.2" stroke-dasharray="13 25 4 5 4 24 6 17 10 10 7 16 6 14" stroke-dashoffset="0"/>
<path d="M975.0,395.4L1051.3,395.4L1127.6,395.4L1142.8,395.4" fill="none" stroke="#303030" stroke-width="2.2" stroke-dasharray="13 25 4 5 4 24 6 17 10 10 7 16 6 14" stroke-dashoffset="11"/>
<path d="M975.0,373.9L980.7,373.9L1013.1,374.3L1043.7,374.9L1074.2,376.3L1104.7,378.7L1127.6,381.1L1142.8,381.9L1165.7,379.6L1188.6,376.6L1222.9,374.3L1261.1,373.9L1291.2,373.1L1291.2,383.1L1261.1,383.9L1222.9,384.3L1188.6,386.6L1165.7,389.6L1142.8,391.9L1127.6,391.1L1104.7,389.7L1074.2,388.3L1043.7,387.4L1013.1,387.3L980.7,386.9L975.0,386.9Z" fill="#c4c4c4" stroke="#6e6e6e" stroke-width="1.6"/>
<path d="M975.0,373.9L980.7,373.9L1013.1,374.3L1043.7,374.9L1074.2,376.3L1104.7,378.7L1127.6,381.1L1142.8,381.9L1165.7,379.6L1188.6,376.6L1222.9,374.3L1261.1,373.9L1291.2,373.1" fill="none" stroke="#303030" stroke-width="2.2" stroke-dasharray="8 17 4 24 7 16 3 18 6 10 4 9 7 12" stroke-dashoffset="5"/>
<path d="M975.0,386.9L980.7,386.9L1013.1,387.3L1043.7,387.4L1074.2,388.3L1104.7,389.7L1127.6,391.1L1142.8,391.9L1165.7,389.6L1188.6,386.6L1222.9,384.3L1261.1,383.9L1291.2,383.1" fill="none" stroke="#303030" stroke-width="2.2" stroke-dasharray="8 17 4 24 7 16 3 18 6 10 4 9 7 12" stroke-dashoffset="16"/>
<path d="M975.0,331.4L980.7,331.4L997.9,331.4L1013.1,332.2L1028.4,333.3L1043.7,335.9L1058.9,340.3L1074.2,344.1L1089.4,347.6L1104.7,350.5L1120.0,354.2L1131.4,356.1L1142.8,357.6L1154.3,357.6L1154.3,366.6L1142.8,366.6L1131.4,365.1L1120.0,363.2L1104.7,360.0L1089.4,357.6L1074.2,354.1L1058.9,350.3L1043.7,346.4L1028.4,344.3L1013.1,343.2L997.9,342.4L980.7,342.4L975.0,342.4Z" fill="#d0d0d0" stroke="#767676" stroke-width="1.6"/>
<path d="M975.0,331.4L980.7,331.4L997.9,331.4L1013.1,332.2L1028.4,333.3L1043.7,335.9L1058.9,340.3L1074.2,344.1L1089.4,347.6L1104.7,350.5L1120.0,354.2L1131.4,356.1L1142.8,357.6L1154.3,357.6" fill="none" stroke="#303030" stroke-width="2.2" stroke-dasharray="8 18 6 5 5 8 11 6 8 17 8 6 6 8" stroke-dashoffset="10"/>
<path d="M975.0,342.4L980.7,342.4L997.9,342.4L1013.1,343.2L1028.4,344.3L1043.7,346.4L1058.9,350.3L1074.2,354.1L1089.4,357.6L1104.7,360.0L1120.0,363.2L1131.4,365.1L1142.8,366.6L1154.3,366.6" fill="none" stroke="#303030" stroke-width="2.2" stroke-dasharray="8 18 6 5 5 8 11 6 8 17 8 6 6 8" stroke-dashoffset="21"/>
<path d="M975.0,312.9L980.7,312.9L997.9,313.3L1013.1,314.4L1028.4,316.7L1043.7,320.8L1058.9,325.2L1074.2,329.3L1089.4,333.0L1104.7,336.3L1120.0,341.5L1131.4,345.3L1146.7,348.3L1165.7,350.5L1181.0,352.6L1196.2,355.7L1211.5,359.5L1226.8,362.6L1242.0,365.1L1261.1,367.4L1280.2,369.3L1291.2,370.1L1291.2,378.6L1280.2,377.8L1261.1,375.9L1242.0,373.6L1226.8,371.6L1211.5,368.5L1196.2,364.7L1181.0,361.6L1165.7,360.0L1146.7,358.3L1131.4,355.3L1120.0,351.5L1104.7,346.8L1089.4,344.0L1074.2,340.8L1058.9,337.2L1043.7,333.3L1028.4,329.7L1013.1,327.4L997.9,326.3L980.7,325.9L975.0,325.9Z" fill="#c8c8c8" stroke="#6c6c6c" stroke-width="1.7"/>
<path d="M975.0,312.9L980.7,312.9L997.9,313.3L1013.1,314.4L1028.4,316.7L1043.7,320.8L1058.9,325.2L1074.2,329.3L1089.4,333.0L1104.7,336.3L1120.0,341.5L1131.4,345.3L1146.7,348.3L1165.7,350.5L1181.0,352.6L1196.2,355.7L1211.5,359.5L1226.8,362.6L1242.0,365.1L1261.1,367.4L1280.2,369.3L1291.2,370.1" fill="none" stroke="#303030" stroke-width="2.2" stroke-dasharray="10 9 12 11 7 23 11 16 5 14 3 7 4 21" stroke-dashoffset="15"/>
<path d="M975.0,325.9L980.7,325.9L997.9,326.3L1013.1,327.4L1028.4,329.7L1043.7,333.3L1058.9,337.2L1074.2,340.8L1089.4,344.0L1104.7,346.8L1120.0,351.5L1131.4,355.3L1146.7,358.3L1165.7,360.0L1181.0,361.6L1196.2,364.7L1211.5,368.5L1226.8,371.6L1242.0,373.6L1261.1,375.9L1280.2,377.8L1291.2,378.6" fill="none" stroke="#303030" stroke-width="2.2" stroke-dasharray="10 9 12 11 7 23 11 16 5 14 3 7 4 21" stroke-dashoffset="26"/>
<path d="M975.0,305.4L982.6,294.7L990.3,284.4L997.9,267.5L1007.4,250.9L1017.0,240.8L1026.5,235.1L1033.0,244.5L1040.6,258.7L1049.4,266.8L1060.8,269.9L1072.3,274.5L1085.6,281.3L1100.9,288.7L1114.2,294.4L1127.6,300.1L1139.0,302.7L1154.3,298.9L1154.3,307.8L1139.0,311.7L1127.6,309.6L1114.2,303.9L1100.9,298.2L1085.6,290.3L1072.3,283.4L1060.8,278.8L1049.4,275.8L1040.6,267.1L1033.0,252.3L1026.5,243.5L1017.0,249.2L1007.4,260.4L997.9,278.2L990.3,295.6L982.6,305.9L975.0,316.6Z" fill="#d4d4d4" stroke="#7e7e7e" stroke-width="1.5"/>
<path d="M975.0,305.4L982.6,294.7L990.3,284.4L997.9,267.5L1007.4,250.9L1017.0,240.8L1026.5,235.1L1033.0,244.5L1040.6,258.7L1049.4,266.8L1060.8,269.9L1072.3,274.5L1085.6,281.3L1100.9,288.7L1114.2,294.4L1127.6,300.1L1139.0,302.7L1154.3,298.9" fill="none" stroke="#303030" stroke-width="2.2" stroke-dasharray="6 22 11 26 9 21 3 21 5 23 11 15 12 10" stroke-dashoffset="20"/>
<path d="M975.0,316.6L982.6,305.9L990.3,295.6L997.9,278.2L1007.4,260.4L1017.0,249.2L1026.5,243.5L1033.0,252.3L1040.6,267.1L1049.4,275.8L1060.8,278.8L1072.3,283.4L1085.6,290.3L1100.9,298.2L1114.2,303.9L1127.6,309.6L1139.0,311.7L1154.3,307.8" fill="none" stroke="#303030" stroke-width="2.2" stroke-dasharray="6 22 11 26 9 21 3 21 5 23 11 15 12 10" stroke-dashoffset="31"/>
<path d="M975.0,298.5L980.7,290.1L988.4,274.9L997.9,250.4L1007.4,231.8L1017.0,222.1L1026.5,217.1L1032.2,227.0L1039.8,243.8L1047.5,253.1L1058.9,256.9L1072.3,262.6L1085.6,268.4L1100.9,275.7L1114.2,283.3L1127.6,290.2L1139.0,293.2L1150.5,291.3L1158.1,287.4L1158.1,296.4L1150.5,300.2L1139.0,302.1L1127.6,299.7L1114.2,292.9L1100.9,285.2L1085.6,277.3L1072.3,271.6L1058.9,265.9L1047.5,262.1L1039.8,252.2L1032.2,234.8L1026.5,225.5L1017.0,230.5L1007.4,241.4L997.9,261.0L988.4,286.1L980.7,301.3L975.0,309.7Z" fill="#d6d6d6" stroke="#828282" stroke-width="1.5"/>
<path d="M975.0,298.5L980.7,290.1L988.4,274.9L997.9,250.4L1007.4,231.8L1017.0,222.1L1026.5,217.1L1032.2,227.0L1039.8,243.8L1047.5,253.1L1058.9,256.9L1072.3,262.6L1085.6,268.4L1100.9,275.7L1114.2,283.3L1127.6,290.2L1139.0,293.2L1150.5,291.3L1158.1,287.4" fill="none" stroke="#303030" stroke-width="2.2" stroke-dasharray="10 18 10 5 8 26 3 17 8 26 11 26 12 5" stroke-dashoffset="25"/>
<path d="M975.0,309.7L980.7,301.3L988.4,286.1L997.9,261.0L1007.4,241.4L1017.0,230.5L1026.5,225.5L1032.2,234.8L1039.8,252.2L1047.5,262.1L1058.9,265.9L1072.3,271.6L1085.6,277.3L1100.9,285.2L1114.2,292.9L1127.6,299.7L1139.0,302.1L1150.5,300.2L1158.1,296.4" fill="none" stroke="#303030" stroke-width="2.2" stroke-dasharray="10 18 10 5 8 26 3 17 8 26 11 26 12 5" stroke-dashoffset="36"/>
<path d="M1160.4,284.4L1169.5,281.7L1181.0,277.9L1190.5,280.6L1198.2,287.6L1200.8,295.3L1200.8,305.3L1198.2,297.7L1190.5,289.5L1181.0,286.9L1169.5,290.7L1160.4,293.3Z" fill="#d2d2d2" stroke="#7e7e7e" stroke-width="1.5"/>
<path d="M1160.4,284.4L1169.5,281.7L1181.0,277.9L1190.5,280.6L1198.2,287.6L1200.8,295.3" fill="none" stroke="#303030" stroke-width="2.2" stroke-dasharray="8 20 10 6 8 15 9 14 5 17 12 24 3 23" stroke-dashoffset="30"/>
<path d="M1160.4,293.3L1169.5,290.7L1181.0,286.9L1190.5,289.5L1198.2,297.7L1200.8,305.3" fill="none" stroke="#303030" stroke-width="2.2" stroke-dasharray="8 20 10 6 8 15 9 14 5 17 12 24 3 23" stroke-dashoffset="41"/>
<path d="M1165.7,309.8L1181.0,310.6L1190.5,306.5L1198.2,298.3L1205.8,288.8L1215.3,280.7L1224.9,277.6L1242.0,284.2L1261.1,298.8L1280.2,306.7L1291.2,301.5L1291.2,310.5L1280.2,316.8L1261.1,309.4L1242.0,294.3L1224.9,287.1L1215.3,290.2L1205.8,298.9L1198.2,308.4L1190.5,315.5L1181.0,319.0L1165.7,318.2Z" fill="#d2d2d2" stroke="#7e7e7e" stroke-width="1.5"/>
<path d="M1165.7,309.8L1181.0,310.6L1190.5,306.5L1198.2,298.3L1205.8,288.8L1215.3,280.7L1224.9,277.6L1242.0,284.2L1261.1,298.8L1280.2,306.7L1291.2,301.5" fill="none" stroke="#303030" stroke-width="2.2" stroke-dasharray="4 20 4 8 12 10 3 6 7 11 11 8 10 20" stroke-dashoffset="35"/>
<path d="M1165.7,318.2L1181.0,319.0L1190.5,315.5L1198.2,308.4L1205.8,298.9L1215.3,290.2L1224.9,287.1L1242.0,294.3L1261.1,309.4L1280.2,316.8L1291.2,310.5" fill="none" stroke="#303030" stroke-width="2.2" stroke-dasharray="4 20 4 8 12 10 3 6 7 11 11 8 10 20" stroke-dashoffset="46"/>
<path d="M1160.4,336.8L1173.4,343.8L1184.8,348.5L1194.3,344.9L1203.9,329.0L1213.4,316.0L1222.9,310.0L1234.4,312.7L1245.8,320.1L1261.1,331.5L1276.4,339.1L1285.9,338.3L1291.2,334.0L1291.2,342.9L1285.9,347.8L1276.4,349.2L1261.1,341.6L1245.8,330.1L1234.4,322.2L1222.9,319.6L1213.4,326.6L1203.9,340.2L1194.3,354.9L1184.8,357.4L1173.4,352.2L1160.4,344.7Z" fill="#d4d4d4" stroke="#7e7e7e" stroke-width="1.5"/>
<path d="M1160.4,336.8L1173.4,343.8L1184.8,348.5L1194.3,344.9L1203.9,329.0L1213.4,316.0L1222.9,310.0L1234.4,312.7L1245.8,320.1L1261.1,331.5L1276.4,339.1L1285.9,338.3L1291.2,334.0" fill="none" stroke="#303030" stroke-width="2.2" stroke-dasharray="10 6 9 12 6 15 5 17 12 22 6 26 10 10" stroke-dashoffset="40"/>
<path d="M1160.4,344.7L1173.4,352.2L1184.8,357.4L1194.3,354.9L1203.9,340.2L1213.4,326.6L1222.9,319.6L1234.4,322.2L1245.8,330.1L1261.1,341.6L1276.4,349.2L1285.9,347.8L1291.2,342.9" fill="none" stroke="#303030" stroke-width="2.2" stroke-dasharray="10 6 9 12 6 15 5 17 12 22 6 26 10 10" stroke-dashoffset="51"/>
<path d="M1161.9,248.5L1177.2,248.5L1188.6,250.9L1200.1,260.7L1211.5,272.1L1226.8,281.9L1242.0,289.5L1261.1,304.5L1276.4,312.4L1287.8,310.8L1291.2,308.8L1291.2,317.8L1287.8,320.3L1276.4,322.5L1261.1,315.2L1242.0,299.6L1226.8,292.0L1211.5,282.7L1200.1,271.3L1188.6,260.4L1177.2,257.5L1161.9,257.5Z" fill="#d0d0d0" stroke="#787878" stroke-width="1.6"/>
<path d="M1161.9,248.5L1177.2,248.5L1188.6,250.9L1200.1,260.7L1211.5,272.1L1226.8,281.9L1242.0,289.5L1261.1,304.5L1276.4,312.4L1287.8,310.8L1291.2,308.8" fill="none" stroke="#303030" stroke-width="2.2" stroke-dasharray="6 22 12 22 13 11 5 26 10 5 13 11 4 7" stroke-dashoffset="45"/>
<path d="M1161.9,257.5L1177.2,257.5L1188.6,260.4L1200.1,271.3L1211.5,282.7L1226.8,292.0L1242.0,299.6L1261.1,315.2L1276.4,322.5L1287.8,320.3L1291.2,317.8" fill="none" stroke="#303030" stroke-width="2.2" stroke-dasharray="6 22 12 22 13 11 5 26 10 5 13 11 4 7" stroke-dashoffset="56"/>
<path d="M975.0,263.2L980.7,252.5L990.3,227.7L999.8,197.5L1007.4,183.1L1017.0,176.3L1026.5,172.5L1032.2,182.8L1039.8,199.7L1047.5,213.0L1058.9,219.6L1072.3,227.0L1085.6,235.7L1100.9,245.3L1114.2,253.7L1127.6,262.8L1135.2,266.6L1146.7,266.6L1157.3,261.3L1157.3,269.1L1146.7,274.5L1135.2,274.5L1127.6,270.7L1114.2,261.5L1100.9,253.1L1085.6,243.6L1072.3,234.8L1058.9,226.9L1047.5,219.7L1039.8,206.4L1032.2,188.9L1026.5,178.7L1017.0,182.5L1007.4,190.9L999.8,207.0L990.3,237.8L980.7,262.6L975.0,273.3Z" fill="#d0d0d0" stroke="#7a7a7a" stroke-width="1.5"/>
<path d="M975.0,263.2L980.7,252.5L990.3,227.7L999.8,197.5L1007.4,183.1L1017.0,176.3L1026.5,172.5L1032.2,182.8L1039.8,199.7L1047.5,213.0L1058.9,219.6L1072.3,227.0L1085.6,235.7L1100.9,245.3L1114.2,253.7L1127.6,262.8L1135.2,266.6L1146.7,266.6L1157.3,261.3" fill="none" stroke="#303030" stroke-width="2.2" stroke-dasharray="11 8 4 13 12 12 6 13 6 20 8 19 13 17" stroke-dashoffset="50"/>
<path d="M975.0,273.3L980.7,262.6L990.3,237.8L999.8,207.0L1007.4,190.9L1017.0,182.5L1026.5,178.7L1032.2,188.9L1039.8,206.4L1047.5,219.7L1058.9,226.9L1072.3,234.8L1085.6,243.6L1100.9,253.1L1114.2,261.5L1127.6,270.7L1135.2,274.5L1146.7,274.5L1157.3,269.1" fill="none" stroke="#303030" stroke-width="2.2" stroke-dasharray="11 8 4 13 12 12 6 13 6 20 8 19 13 17" stroke-dashoffset="61"/>
<path d="M1161.9,240.3L1177.2,238.0L1188.6,235.4L1198.2,229.7L1207.7,224.7L1224.9,220.0L1234.4,225.1L1243.9,234.1L1253.5,247.1L1264.9,262.7L1276.4,270.1L1285.9,270.7L1291.2,266.3L1291.2,274.1L1285.9,279.6L1276.4,280.2L1264.9,273.9L1253.5,258.9L1243.9,245.3L1234.4,235.2L1224.9,229.5L1207.7,234.8L1198.2,239.7L1188.6,245.5L1177.2,248.1L1161.9,250.4Z" fill="#cccccc" stroke="#646464" stroke-width="1.8"/>
<path d="M1161.9,240.3L1177.2,238.0L1188.6,235.4L1198.2,229.7L1207.7,224.7L1224.9,220.0L1234.4,225.1L1243.9,234.1L1253.5,247.1L1264.9,262.7L1276.4,270.1L1285.9,270.7L1291.2,266.3" fill="none" stroke="#303030" stroke-width="2.2" stroke-dasharray="11 12 13 19 11 8 11 5 11 22 13 16 6 17" stroke-dashoffset="55"/>
<path d="M1161.9,250.4L1177.2,248.1L1188.6,245.5L1198.2,239.7L1207.7,234.8L1224.9,229.5L1234.4,235.2L1243.9,245.3L1253.5,258.9L1264.9,273.9L1276.4,280.2L1285.9,279.6L1291.2,274.1" fill="none" stroke="#303030" stroke-width="2.2" stroke-dasharray="11 12 13 19 11 8 11 5 11 22 13 16 6 17" stroke-dashoffset="66"/>
<path d="M1163.4,223.5L1182.9,222.7L1194.0,217.4L1203.9,210.5L1224.1,205.2L1240.9,218.3L1256.9,243.5L1269.9,255.4L1282.1,262.1L1291.2,257.8L1291.2,263.4L1282.1,268.3L1269.9,262.1L1256.9,250.3L1240.9,224.4L1224.1,210.8L1203.9,216.1L1194.0,223.0L1182.9,228.3L1163.4,229.1Z" fill="#d8d8d8" stroke="#8a8a8a" stroke-width="1.3"/>
<path d="M1163.4,223.5L1182.9,222.7L1194.0,217.4L1203.9,210.5L1224.1,205.2L1240.9,218.3L1256.9,243.5L1269.9,255.4L1282.1,262.1L1291.2,257.8" fill="none" stroke="#303030" stroke-width="2.2" stroke-dasharray="10 26 4 18 10 8 8 12 10 14 9 23 4 10" stroke-dashoffset="60"/>
<path d="M1163.4,229.1L1182.9,228.3L1194.0,223.0L1203.9,216.1L1224.1,210.8L1240.9,224.4L1256.9,250.3L1269.9,262.1L1282.1,268.3L1291.2,263.4" fill="none" stroke="#303030" stroke-width="2.2" stroke-dasharray="10 26 4 18 10 8 8 12 10 14 9 23 4 10" stroke-dashoffset="71"/>
<path d="M975.0,249.9L980.7,239.2L990.3,214.4L999.8,184.6L1005.5,175.3L1005.5,184.2L999.8,194.7L990.3,224.5L980.7,249.3L975.0,260.0Z" fill="#d6d6d6" stroke="#888888" stroke-width="1.4"/>
<path d="M975.0,249.9L980.7,239.2L990.3,214.4L999.8,184.6L1005.5,175.3" fill="none" stroke="#303030" stroke-width="2.2" stroke-dasharray="6 24 9 13 12 25 5 25 3 21 7 5 10 15" stroke-dashoffset="65"/>
<path d="M975.0,260.0L980.7,249.3L990.3,224.5L999.8,194.7L1005.5,184.2" fill="none" stroke="#303030" stroke-width="2.2" stroke-dasharray="6 24 9 13 12 25 5 25 3 21 7 5 10 15" stroke-dashoffset="76"/>
<path d="M998.7,189.0L1007.4,174.1L1017.0,167.1L1026.5,162.7L1031.5,175.1L1037.9,189.5L1045.6,203.2L1057.0,211.0L1070.4,218.2L1085.6,226.8L1100.9,234.9L1114.2,243.7L1127.6,253.3L1135.2,258.2L1146.7,258.5L1157.3,254.3L1160.4,247.4L1160.4,256.4L1157.3,262.3L1146.7,266.5L1135.2,266.2L1127.6,263.3L1114.2,254.7L1100.9,245.9L1085.6,235.8L1070.4,225.2L1057.0,216.5L1045.6,208.2L1037.9,194.5L1031.5,180.6L1026.5,173.2L1017.0,175.6L1007.4,181.6L998.7,195.0Z" fill="#6e6e6e" stroke="#4a4a4a" stroke-width="1.2"/>
<path d="M1161.9,205.7L1182.9,205.3L1194.0,203.6L1203.9,196.5L1224.1,195.5L1240.9,207.8L1256.9,231.0L1269.9,244.1L1282.1,252.0L1291.2,248.5L1291.2,256.0L1282.1,262.5L1269.9,255.1L1256.9,243.0L1240.9,217.3L1224.1,203.0L1203.9,208.0L1194.0,214.6L1182.9,219.8L1161.9,220.2Z" fill="#5e5e5e" stroke="#404040" stroke-width="1.2"/>
<path d="M1480.1,591.2L1477.0,565.3L1474.0,542.4L1470.9,515.7L1467.1,481.4L1463.3,447.1L1460.6,412.7L1458.7,393.6" fill="none" stroke="#6f6f6f" stroke-width="5.0"/>
<path d="M1480.1,591.2L1477.0,565.3L1474.0,542.4L1470.9,515.7L1467.1,481.4L1463.3,447.1L1460.6,412.7L1458.7,393.6" fill="none" stroke="#9c9c9c" stroke-width="2.6"/>
<path d="M1478.2,556.9L1475.1,531.0L1472.1,504.3L1468.3,469.9L1464.8,435.6L1462.2,393.6" fill="none" stroke="#848484" stroke-width="4.5"/>
<path d="M1478.2,556.9L1475.1,531.0L1472.1,504.3L1468.3,469.9L1464.8,435.6L1462.2,393.6" fill="none" stroke="#bcbcbc" stroke-width="2.1"/>
<path d="M1475.9,511.1L1472.8,481.4L1469.8,450.9L1466.7,420.3L1465.2,393.6" fill="none" stroke="#8c8c8c" stroke-width="4.5"/>
<path d="M1475.9,511.1L1472.8,481.4L1469.8,450.9L1466.7,420.3L1465.2,393.6" fill="none" stroke="#c6c6c6" stroke-width="2.1"/>
<path d="M1443.1,540.5L1448.0,511.9L1453.0,481.4L1457.6,443.2L1460.6,412.7L1462.2,393.6" fill="none" stroke="#767676" stroke-width="5.0"/>
<path d="M1443.1,540.5L1448.0,511.9L1453.0,481.4L1457.6,443.2L1460.6,412.7L1462.2,393.6" fill="none" stroke="#aeaeae" stroke-width="2.6"/>
<path d="M1443.1,504.3L1451.5,466.1L1458.3,428.0L1461.4,393.6" fill="none" stroke="#858585" stroke-width="4.5"/>
<path d="M1443.1,504.3L1451.5,466.1L1458.3,428.0L1461.4,393.6" fill="none" stroke="#bfbfbf" stroke-width="2.1"/>
<path d="M1458.3,531.0L1461.4,496.6L1464.4,450.9L1466.7,393.6" fill="none" stroke="#909090" stroke-width="4.5"/>
<path d="M1458.3,531.0L1461.4,496.6L1464.4,450.9L1466.7,393.6" fill="none" stroke="#c9c9c9" stroke-width="2.1"/>
<path d="M1469.8,496.6L1471.3,466.1L1472.8,428.0L1473.6,393.6" fill="none" stroke="#909090" stroke-width="4.5"/>
<path d="M1469.8,496.6L1471.3,466.1L1472.8,428.0L1473.6,393.6" fill="none" stroke="#c9c9c9" stroke-width="2.1"/>
<path d="M1443.1,540.5L1474.0,542.4L1469.8,496.6L1466.7,450.9L1464.1,393.6L1460.3,393.6L1457.6,443.2L1453.0,481.4L1448.0,511.9Z" fill="#acacac" fill-opacity="0.5"/>
<path d="M1290.5,413.3L1328.6,413.3L1366.8,413.7L1404.9,413.7L1443.1,412.1L1458.3,411.4L1481.2,410.8L1519.4,408.5L1557.5,407.0L1606.7,405.5L1606.7,413.5L1557.5,415.0L1519.4,416.6L1481.2,418.9L1458.3,422.9L1443.1,423.6L1404.9,425.2L1366.8,425.2L1328.6,424.8L1290.5,424.8Z" fill="#b2b2b2" stroke="#787878" stroke-width="1.5"/>
<path d="M1290.5,413.3L1328.6,413.3L1366.8,413.7L1404.9,413.7L1443.1,412.1L1458.3,411.4L1481.2,410.8L1519.4,408.5L1557.5,407.0L1606.7,405.5" fill="none" stroke="#444444" stroke-width="2.1" stroke-dasharray="13 11 13 14 3 17 8 11 11 13 6 7 6 13" stroke-dashoffset="0"/>
<path d="M1290.5,424.8L1328.6,424.8L1366.8,425.2L1404.9,425.2L1443.1,423.6L1458.3,422.9L1481.2,418.9L1519.4,416.6L1557.5,415.0L1606.7,413.5" fill="none" stroke="#3a3a3a" stroke-width="2.1" stroke-dasharray="13 11 13 14 3 17 8 11 11 13 6 7 6 13" stroke-dashoffset="11"/>
<path d="M1290.5,456.4L1296.2,457.2L1313.4,459.1L1328.6,458.3L1347.7,453.3L1366.8,447.6L1385.9,443.0L1404.9,438.1L1424.0,435.4L1443.1,432.4L1458.3,430.5L1473.6,428.5L1473.6,437.7L1458.3,439.7L1443.1,441.6L1424.0,444.6L1404.9,447.3L1385.9,452.2L1366.8,456.8L1347.7,462.5L1328.6,467.5L1313.4,468.3L1296.2,466.4L1290.5,465.6Z" fill="#dddddd" stroke="#9c9c9c" stroke-width="1.4"/>
<path d="M1290.5,456.4L1296.2,457.2L1313.4,459.1L1328.6,458.3L1347.7,453.3L1366.8,447.6L1385.9,443.0L1404.9,438.1L1424.0,435.4L1443.1,432.4L1458.3,430.5L1473.6,428.5" fill="none" stroke="#444444" stroke-width="2.1" stroke-dasharray="11 5 3 9 12 23 5 15 6 9 12 24 7 21" stroke-dashoffset="5"/>
<path d="M1290.5,465.6L1296.2,466.4L1313.4,468.3L1328.6,467.5L1347.7,462.5L1366.8,456.8L1385.9,452.2L1404.9,447.3L1424.0,444.6L1443.1,441.6L1458.3,439.7L1473.6,437.7" fill="none" stroke="#3a3a3a" stroke-width="2.1" stroke-dasharray="11 5 3 9 12 23 5 15 6 9 12 24 7 21" stroke-dashoffset="16"/>
<path d="M1290.5,471.7L1296.2,472.4L1313.4,475.1L1328.6,475.1L1347.7,471.3L1366.8,464.8L1385.9,458.3L1404.9,453.3L1424.0,447.6L1443.1,441.9L1458.3,438.1L1473.6,435.4L1473.6,444.6L1458.3,447.3L1443.1,451.1L1424.0,456.8L1404.9,462.5L1385.9,467.5L1366.8,474.0L1347.7,480.5L1328.6,484.3L1313.4,484.3L1296.2,481.6L1290.5,480.9Z" fill="#dddddd" stroke="#9c9c9c" stroke-width="1.4"/>
<path d="M1290.5,471.7L1296.2,472.4L1313.4,475.1L1328.6,475.1L1347.7,471.3L1366.8,464.8L1385.9,458.3L1404.9,453.3L1424.0,447.6L1443.1,441.9L1458.3,438.1L1473.6,435.4" fill="none" stroke="#444444" stroke-width="2.1" stroke-dasharray="7 5 6 18 9 26 12 17 13 25 13 19 12 22" stroke-dashoffset="10"/>
<path d="M1290.5,480.9L1296.2,481.6L1313.4,484.3L1328.6,484.3L1347.7,480.5L1366.8,474.0L1385.9,467.5L1404.9,462.5L1424.0,456.8L1443.1,451.1L1458.3,447.3L1473.6,444.6" fill="none" stroke="#3a3a3a" stroke-width="2.1" stroke-dasharray="7 5 6 18 9 26 12 17 13 25 13 19 12 22" stroke-dashoffset="21"/>
<path d="M1465.5,439.0L1502.2,430.0L1555.2,421.5L1606.7,415.0L1606.7,423.0L1555.2,429.5L1502.2,438.0L1465.5,447.0Z" fill="#cccccc" stroke="#787878" stroke-width="1.5"/>
<path d="M1465.5,439.0L1502.2,430.0L1555.2,421.5L1606.7,415.0" fill="none" stroke="#444444" stroke-width="2.1" stroke-dasharray="7 21 7 22 4 26 10 20 13 10 9 6 4 8" stroke-dashoffset="15"/>
<path d="M1465.5,447.0L1502.2,438.0L1555.2,429.5L1606.7,423.0" fill="none" stroke="#3a3a3a" stroke-width="2.1" stroke-dasharray="7 21 7 22 4 26 10 20 13 10 9 6 4 8" stroke-dashoffset="26"/>
<path d="M1290.5,486.5L1296.2,499.9L1305.8,522.8L1317.2,545.6L1328.6,561.5L1342.0,570.4L1349.6,558.7L1361.1,537.0L1372.5,529.3L1385.9,523.6L1401.1,516.0L1416.4,508.4L1429.7,500.7L1443.1,496.2L1458.3,497.2L1471.7,499.1L1471.7,508.3L1458.3,506.4L1443.1,505.9L1429.7,510.5L1416.4,518.1L1401.1,525.8L1385.9,533.4L1372.5,539.1L1361.1,546.7L1349.6,568.5L1342.0,579.6L1328.6,571.8L1317.2,557.1L1305.8,534.3L1296.2,511.4L1290.5,498.0Z" fill="#dcdcdc" stroke="#989898" stroke-width="1.4"/>
<path d="M1290.5,486.5L1296.2,499.9L1305.8,522.8L1317.2,545.6L1328.6,561.5L1342.0,570.4L1349.6,558.7L1361.1,537.0L1372.5,529.3L1385.9,523.6L1401.1,516.0L1416.4,508.4L1429.7,500.7L1443.1,496.2L1458.3,497.2L1471.7,499.1" fill="none" stroke="#444444" stroke-width="2.1" stroke-dasharray="7 26 8 18 9 20 4 17 13 8 9 12 12 5" stroke-dashoffset="20"/>
<path d="M1290.5,498.0L1296.2,511.4L1305.8,534.3L1317.2,557.1L1328.6,571.8L1342.0,579.6L1349.6,568.5L1361.1,546.7L1372.5,539.1L1385.9,533.4L1401.1,525.8L1416.4,518.1L1429.7,510.5L1443.1,505.9L1458.3,506.4L1471.7,508.3" fill="none" stroke="#3a3a3a" stroke-width="2.1" stroke-dasharray="7 26 8 18 9 20 4 17 13 8 9 12 12 5" stroke-dashoffset="31"/>
<path d="M1290.5,465.5L1296.2,478.9L1305.8,503.7L1317.2,530.4L1328.6,550.0L1342.0,560.2L1349.6,548.4L1361.1,523.6L1372.5,516.0L1385.9,510.3L1401.1,502.4L1416.4,492.5L1429.7,486.8L1443.1,484.4L1458.3,485.5L1471.7,488.8L1471.7,498.0L1458.3,495.3L1443.1,494.8L1429.7,497.7L1416.4,503.5L1401.1,512.7L1385.9,520.0L1372.5,525.8L1361.1,533.4L1349.6,558.2L1342.0,569.4L1328.6,560.4L1317.2,541.9L1305.8,515.2L1296.2,490.4L1290.5,477.0Z" fill="#c8c8c8" stroke="#6e6e6e" stroke-width="1.7"/>
<path d="M1290.5,465.5L1296.2,478.9L1305.8,503.7L1317.2,530.4L1328.6,550.0L1342.0,560.2L1349.6,548.4L1361.1,523.6L1372.5,516.0L1385.9,510.3L1401.1,502.4L1416.4,492.5L1429.7,486.8L1443.1,484.4L1458.3,485.5L1471.7,488.8" fill="none" stroke="#444444" stroke-width="2.1" stroke-dasharray="10 9 13 5 8 10 13 13 5 17 5 14 8 25" stroke-dashoffset="25"/>
<path d="M1290.5,477.0L1296.2,490.4L1305.8,515.2L1317.2,541.9L1328.6,560.4L1342.0,569.4L1349.6,558.2L1361.1,533.4L1372.5,525.8L1385.9,520.0L1401.1,512.7L1416.4,503.5L1429.7,497.7L1443.1,494.8L1458.3,495.3L1471.7,498.0" fill="none" stroke="#3a3a3a" stroke-width="2.1" stroke-dasharray="10 9 13 5 8 10 13 13 5 17 5 14 8 25" stroke-dashoffset="36"/>
<path d="M1478.5,448.4L1494.4,446.2L1505.2,450.2L1516.1,460.5L1526.9,471.3L1542.0,478.1L1557.1,475.9L1572.3,467.2L1585.3,458.6L1602.6,452.4L1606.7,452.6L1606.7,462.4L1602.6,462.2L1585.3,469.0L1572.3,477.6L1557.1,486.3L1542.0,488.5L1526.9,482.3L1516.1,471.5L1505.2,460.0L1494.4,455.4L1478.5,457.6Z" fill="#dcdcdc" stroke="#929292" stroke-width="1.4"/>
<path d="M1478.5,448.4L1494.4,446.2L1505.2,450.2L1516.1,460.5L1526.9,471.3L1542.0,478.1L1557.1,475.9L1572.3,467.2L1585.3,458.6L1602.6,452.4L1606.7,452.6" fill="none" stroke="#444444" stroke-width="2.1" stroke-dasharray="12 15 9 6 8 12 12 19 3 16 13 17 10 9" stroke-dashoffset="30"/>
<path d="M1478.5,457.6L1494.4,455.4L1505.2,460.0L1516.1,471.5L1526.9,482.3L1542.0,488.5L1557.1,486.3L1572.3,477.6L1585.3,469.0L1602.6,462.2L1606.7,462.4" fill="none" stroke="#3a3a3a" stroke-width="2.1" stroke-dasharray="12 15 9 6 8 12 12 19 3 16 13 17 10 9" stroke-dashoffset="41"/>
<path d="M1478.5,481.9L1494.4,478.7L1505.2,481.9L1512.0,488.8L1512.0,499.2L1505.2,491.1L1494.4,487.9L1478.5,491.1Z" fill="#cecece" stroke="#7a7a7a" stroke-width="1.5"/>
<path d="M1478.5,481.9L1494.4,478.7L1505.2,481.9L1512.0,488.8" fill="none" stroke="#444444" stroke-width="2.1" stroke-dasharray="12 16 12 14 11 9 10 19 3 19 8 12 9 20" stroke-dashoffset="35"/>
<path d="M1478.5,491.1L1494.4,487.9L1505.2,491.1L1512.0,499.2" fill="none" stroke="#3a3a3a" stroke-width="2.1" stroke-dasharray="12 16 12 14 11 9 10 19 3 19 8 12 9 20" stroke-dashoffset="46"/>
<path d="M1478.5,500.4L1494.4,502.4L1506.0,498.4L1512.0,489.8L1512.0,500.2L1506.0,507.6L1494.4,511.6L1478.5,509.6Z" fill="#c4c4c4" stroke="#6c6c6c" stroke-width="1.6"/>
<path d="M1478.5,500.4L1494.4,502.4L1506.0,498.4L1512.0,489.8" fill="none" stroke="#444444" stroke-width="2.1" stroke-dasharray="6 24 11 15 10 14 12 12 9 15 4 9 5 22" stroke-dashoffset="40"/>
<path d="M1478.5,509.6L1494.4,511.6L1506.0,507.6L1512.0,500.2" fill="none" stroke="#3a3a3a" stroke-width="2.1" stroke-dasharray="6 24 11 15 10 14 12 12 9 15 4 9 5 22" stroke-dashoffset="51"/>
<path d="M1478.5,530.6L1494.4,531.6L1505.2,530.3L1516.1,521.3L1526.9,510.2L1542.0,501.8L1557.1,497.5L1572.3,486.4L1585.3,478.1L1602.6,469.7L1606.7,469.1L1606.7,478.9L1602.6,479.5L1585.3,488.5L1572.3,497.4L1557.1,507.9L1542.0,512.2L1526.9,521.2L1516.1,531.7L1505.2,540.1L1494.4,540.8L1478.5,539.8Z" fill="#dcdcdc" stroke="#929292" stroke-width="1.4"/>
<path d="M1478.5,530.6L1494.4,531.6L1505.2,530.3L1516.1,521.3L1526.9,510.2L1542.0,501.8L1557.1,497.5L1572.3,486.4L1585.3,478.1L1602.6,469.7L1606.7,469.1" fill="none" stroke="#444444" stroke-width="2.1" stroke-dasharray="3 26 4 17 5 16 4 11 13 11 3 8 8 13" stroke-dashoffset="45"/>
<path d="M1478.5,539.8L1494.4,540.8L1505.2,540.1L1516.1,531.7L1526.9,521.2L1542.0,512.2L1557.1,507.9L1572.3,497.4L1585.3,488.5L1602.6,479.5L1606.7,478.9" fill="none" stroke="#3a3a3a" stroke-width="2.1" stroke-dasharray="3 26 4 17 5 16 4 11 13 11 3 8 8 13" stroke-dashoffset="56"/>
<path d="M1478.5,538.6L1505.2,542.4L1520.4,552.9L1537.7,559.4L1550.7,557.5L1563.6,542.4L1576.6,523.0L1589.6,514.8L1598.2,517.0L1606.7,526.8L1606.7,537.2L1598.2,527.4L1589.6,525.2L1576.6,534.5L1563.6,553.9L1550.7,569.0L1537.7,571.4L1520.4,564.9L1505.2,553.9L1478.5,549.0Z" fill="#d8d8d8" stroke="#848484" stroke-width="1.5"/>
<path d="M1478.5,538.6L1505.2,542.4L1520.4,552.9L1537.7,559.4L1550.7,557.5L1563.6,542.4L1576.6,523.0L1589.6,514.8L1598.2,517.0L1606.7,526.8" fill="none" stroke="#444444" stroke-width="2.1" stroke-dasharray="12 12 13 22 12 13 12 23 7 16 8 17 3 23" stroke-dashoffset="50"/>
<path d="M1478.5,549.0L1505.2,553.9L1520.4,564.9L1537.7,571.4L1550.7,569.0L1563.6,553.9L1576.6,534.5L1589.6,525.2L1598.2,527.4L1606.7,537.2" fill="none" stroke="#3a3a3a" stroke-width="2.1" stroke-dasharray="12 12 13 22 12 13 12 23 7 16 8 17 3 23" stroke-dashoffset="61"/>
<path d="M1290.5,529.1L1296.2,541.6L1305.8,563.8L1317.2,591.2L1328.6,606.4L1342.0,614.7L1349.6,604.0L1361.1,580.0L1372.5,573.5L1385.9,566.6L1401.1,558.2L1416.4,548.7L1429.7,541.1L1443.1,532.3L1458.3,528.5L1472.8,530.8L1472.8,540.0L1458.3,537.7L1443.1,541.5L1429.7,550.3L1416.4,557.9L1401.1,567.4L1385.9,575.8L1372.5,582.7L1361.1,589.2L1349.6,613.2L1342.0,623.9L1328.6,616.2L1317.2,601.6L1305.8,574.1L1296.2,552.0L1290.5,539.4Z" fill="#dcdcdc" stroke="#949494" stroke-width="1.4"/>
<path d="M1290.5,529.1L1296.2,541.6L1305.8,563.8L1317.2,591.2L1328.6,606.4L1342.0,614.7L1349.6,604.0L1361.1,580.0L1372.5,573.5L1385.9,566.6L1401.1,558.2L1416.4,548.7L1429.7,541.1L1443.1,532.3L1458.3,528.5L1472.8,530.8" fill="none" stroke="#444444" stroke-width="2.1" stroke-dasharray="4 23 10 19 13 15 6 13 4 10 13 14 13 6" stroke-dashoffset="55"/>
<path d="M1290.5,539.4L1296.2,552.0L1305.8,574.1L1317.2,601.6L1328.6,616.2L1342.0,623.9L1349.6,613.2L1361.1,589.2L1372.5,582.7L1385.9,575.8L1401.1,567.4L1416.4,557.9L1429.7,550.3L1443.1,541.5L1458.3,537.7L1472.8,540.0" fill="none" stroke="#3a3a3a" stroke-width="2.1" stroke-dasharray="4 23 10 19 13 15 6 13 4 10 13 14 13 6" stroke-dashoffset="66"/>
<path d="M1290.5,544.3L1296.2,556.9L1305.8,579.0L1317.2,606.9L1328.6,622.0L1342.0,631.1L1349.6,618.5L1361.1,593.3L1372.5,584.9L1385.9,577.3L1401.1,567.5L1416.4,557.7L1429.7,550.0L1443.1,541.6L1458.3,538.1L1473.6,539.9L1473.6,549.1L1458.3,547.9L1443.1,552.0L1429.7,560.4L1416.4,568.0L1401.1,577.3L1385.9,586.5L1372.5,594.1L1361.1,602.5L1349.6,627.7L1342.0,640.3L1328.6,631.8L1317.2,617.2L1305.8,589.4L1296.2,567.3L1290.5,554.7Z" fill="#d4d4d4" stroke="#7e7e7e" stroke-width="1.5"/>
<path d="M1290.5,544.3L1296.2,556.9L1305.8,579.0L1317.2,606.9L1328.6,622.0L1342.0,631.1L1349.6,618.5L1361.1,593.3L1372.5,584.9L1385.9,577.3L1401.1,567.5L1416.4,557.7L1429.7,550.0L1443.1,541.6L1458.3,538.1L1473.6,539.9" fill="none" stroke="#444444" stroke-width="2.1" stroke-dasharray="11 9 5 21 6 13 6 13 8 6 4 9 6 6" stroke-dashoffset="60"/>
<path d="M1290.5,554.7L1296.2,567.3L1305.8,589.4L1317.2,617.2L1328.6,631.8L1342.0,640.3L1349.6,627.7L1361.1,602.5L1372.5,594.1L1385.9,586.5L1401.1,577.3L1416.4,568.0L1429.7,560.4L1443.1,552.0L1458.3,547.9L1473.6,549.1" fill="none" stroke="#3a3a3a" stroke-width="2.1" stroke-dasharray="11 9 5 21 6 13 6 13 8 6 4 9 6 6" stroke-dashoffset="71"/>
<path d="M1478.5,576.9L1505.2,578.0L1520.4,585.5L1537.7,585.5L1552.8,579.0L1568.0,562.8L1585.3,543.3L1598.2,536.9L1606.7,546.3L1606.7,553.7L1598.2,544.3L1585.3,550.7L1568.0,570.2L1552.8,586.4L1537.7,592.9L1520.4,592.9L1505.2,585.4L1478.5,584.3Z" fill="#dadada" stroke="#8a8a8a" stroke-width="1.4"/>
<path d="M1478.5,576.9L1505.2,578.0L1520.4,585.5L1537.7,585.5L1552.8,579.0L1568.0,562.8L1585.3,543.3L1598.2,536.9L1606.7,546.3" fill="none" stroke="#444444" stroke-width="2.1" stroke-dasharray="5 5 3 9 9 18 12 18 3 10 5 26 11 21" stroke-dashoffset="65"/>
<path d="M1478.5,584.3L1505.2,585.4L1520.4,592.9L1537.7,592.9L1552.8,586.4L1568.0,570.2L1585.3,550.7L1598.2,544.3L1606.7,553.7" fill="none" stroke="#3a3a3a" stroke-width="2.1" stroke-dasharray="5 5 3 9 9 18 12 18 3 10 5 26 11 21" stroke-dashoffset="76"/>
<path d="M1478.5,590.6L1505.2,590.6L1520.4,599.3L1537.7,600.4L1552.8,592.8L1568.0,576.6L1585.3,556.0L1598.2,545.2L1606.7,555.0L1606.7,563.0L1598.2,553.2L1585.3,564.0L1568.0,584.6L1552.8,600.8L1537.7,608.4L1520.4,607.3L1505.2,598.6L1478.5,598.6Z" fill="#cccccc" stroke="#6a6a6a" stroke-width="1.7"/>
<path d="M1478.5,590.6L1505.2,590.6L1520.4,599.3L1537.7,600.4L1552.8,592.8L1568.0,576.6L1585.3,556.0L1598.2,545.2L1606.7,555.0" fill="none" stroke="#444444" stroke-width="2.1" stroke-dasharray="5 20 4 16 4 9 3 7 8 9 8 15 6 14" stroke-dashoffset="70"/>
<path d="M1478.5,598.6L1505.2,598.6L1520.4,607.3L1537.7,608.4L1552.8,600.8L1568.0,584.6L1585.3,564.0L1598.2,553.2L1606.7,563.0" fill="none" stroke="#3a3a3a" stroke-width="2.1" stroke-dasharray="5 20 4 16 4 9 3 7 8 9 8 15 6 14" stroke-dashoffset="81"/>
<path d="M1480.1,208.8L1477.0,234.7L1474.0,257.6L1470.9,284.3L1467.1,318.6L1463.3,352.9L1460.6,387.3L1458.7,406.4" fill="none" stroke="#565656" stroke-width="5.0"/>
<path d="M1480.1,208.8L1477.0,234.7L1474.0,257.6L1470.9,284.3L1467.1,318.6L1463.3,352.9L1460.6,387.3L1458.7,406.4" fill="none" stroke="#8a8a8a" stroke-width="2.6"/>
<path d="M1478.2,243.1L1475.1,269.0L1472.1,295.7L1468.3,330.1L1464.8,364.4L1462.2,406.4" fill="none" stroke="#6e6e6e" stroke-width="4.5"/>
<path d="M1478.2,243.1L1475.1,269.0L1472.1,295.7L1468.3,330.1L1464.8,364.4L1462.2,406.4" fill="none" stroke="#b0b0b0" stroke-width="2.1"/>
<path d="M1475.9,288.9L1472.8,318.6L1469.8,349.1L1466.7,379.7L1465.2,406.4" fill="none" stroke="#787878" stroke-width="4.5"/>
<path d="M1475.9,288.9L1472.8,318.6L1469.8,349.1L1466.7,379.7L1465.2,406.4" fill="none" stroke="#bcbcbc" stroke-width="2.1"/>
<path d="M1443.1,259.5L1448.0,288.1L1453.0,318.6L1457.6,356.8L1460.6,387.3L1462.2,406.4" fill="none" stroke="#5e5e5e" stroke-width="5.0"/>
<path d="M1443.1,259.5L1448.0,288.1L1453.0,318.6L1457.6,356.8L1460.6,387.3L1462.2,406.4" fill="none" stroke="#a0a0a0" stroke-width="2.6"/>
<path d="M1443.1,295.7L1451.5,333.9L1458.3,372.0L1461.4,406.4" fill="none" stroke="#707070" stroke-width="4.5"/>
<path d="M1443.1,295.7L1451.5,333.9L1458.3,372.0L1461.4,406.4" fill="none" stroke="#b4b4b4" stroke-width="2.1"/>
<path d="M1458.3,269.0L1461.4,303.4L1464.4,349.1L1466.7,406.4" fill="none" stroke="#7c7c7c" stroke-width="4.5"/>
<path d="M1458.3,269.0L1461.4,303.4L1464.4,349.1L1466.7,406.4" fill="none" stroke="#c0c0c0" stroke-width="2.1"/>
<path d="M1469.8,303.4L1471.3,333.9L1472.8,372.0L1473.6,406.4" fill="none" stroke="#7c7c7c" stroke-width="4.5"/>
<path d="M1469.8,303.4L1471.3,333.9L1472.8,372.0L1473.6,406.4" fill="none" stroke="#c0c0c0" stroke-width="2.1"/>
<path d="M1443.1,259.5L1474.0,257.6L1469.8,303.4L1466.7,349.1L1464.1,406.4L1460.3,406.4L1457.6,356.8L1453.0,318.6L1448.0,288.1Z" fill="#acacac" fill-opacity="0.5"/>
<path d="M1290.5,388.4L1366.8,388.4L1443.1,388.4L1458.3,388.4L1458.3,395.4L1443.1,395.4L1366.8,395.4L1290.5,395.4Z" fill="#aaaaaa" stroke="#686868" stroke-width="1.4"/>
<path d="M1290.5,388.4L1366.8,388.4L1443.1,388.4L1458.3,388.4" fill="none" stroke="#303030" stroke-width="2.2" stroke-dasharray="6 22 8 17 4 15 5 13 10 22 5 22 5 17" stroke-dashoffset="0"/>
<path d="M1290.5,395.4L1366.8,395.4L1443.1,395.4L1458.3,395.4" fill="none" stroke="#303030" stroke-width="2.2" stroke-dasharray="6 22 8 17 4 15 5 13 10 22 5 22 5 17" stroke-dashoffset="11"/>
<path d="M1290.5,373.9L1296.2,373.9L1328.6,374.3L1359.2,374.9L1389.7,376.3L1420.2,378.7L1443.1,381.1L1458.3,381.9L1481.2,379.6L1504.1,376.6L1538.4,374.3L1576.6,373.9L1606.7,373.1L1606.7,383.1L1576.6,383.9L1538.4,384.3L1504.1,386.6L1481.2,389.6L1458.3,391.9L1443.1,391.1L1420.2,389.7L1389.7,388.3L1359.2,387.4L1328.6,387.3L1296.2,386.9L1290.5,386.9Z" fill="#c4c4c4" stroke="#6e6e6e" stroke-width="1.6"/>
<path d="M1290.5,373.9L1296.2,373.9L1328.6,374.3L1359.2,374.9L1389.7,376.3L1420.2,378.7L1443.1,381.1L1458.3,381.9L1481.2,379.6L1504.1,376.6L1538.4,374.3L1576.6,373.9L1606.7,373.1" fill="none" stroke="#303030" stroke-width="2.2" stroke-dasharray="3 19 5 13 5 26 5 22 12 13 7 14 3 21" stroke-dashoffset="5"/>
<path d="M1290.5,386.9L1296.2,386.9L1328.6,387.3L1359.2,387.4L1389.7,388.3L1420.2,389.7L1443.1,391.1L1458.3,391.9L1481.2,389.6L1504.1,386.6L1538.4,384.3L1576.6,383.9L1606.7,383.1" fill="none" stroke="#303030" stroke-width="2.2" stroke-dasharray="3 19 5 13 5 26 5 22 12 13 7 14 3 21" stroke-dashoffset="16"/>
<path d="M1290.5,331.4L1296.2,331.4L1313.4,331.4L1328.6,332.2L1343.9,333.3L1359.2,335.9L1374.4,340.3L1389.7,344.1L1404.9,347.6L1420.2,350.5L1435.5,354.2L1446.9,356.1L1458.3,357.6L1469.8,357.6L1469.8,366.6L1458.3,366.6L1446.9,365.1L1435.5,363.2L1420.2,360.0L1404.9,357.6L1389.7,354.1L1374.4,350.3L1359.2,346.4L1343.9,344.3L1328.6,343.2L1313.4,342.4L1296.2,342.4L1290.5,342.4Z" fill="#d0d0d0" stroke="#767676" stroke-width="1.6"/>
<path d="M1290.5,331.4L1296.2,331.4L1313.4,331.4L1328.6,332.2L1343.9,333.3L1359.2,335.9L1374.4,340.3L1389.7,344.1L1404.9,347.6L1420.2,350.5L1435.5,354.2L1446.9,356.1L1458.3,357.6L1469.8,357.6" fill="none" stroke="#303030" stroke-width="2.2" stroke-dasharray="12 16 9 22 6 17 4 8 13 22 5 19 11 10" stroke-dashoffset="10"/>
<path d="M1290.5,342.4L1296.2,342.4L1313.4,342.4L1328.6,343.2L1343.9,344.3L1359.2,346.4L1374.4,350.3L1389.7,354.1L1404.9,357.6L1420.2,360.0L1435.5,363.2L1446.9,365.1L1458.3,366.6L1469.8,366.6" fill="none" stroke="#303030" stroke-width="2.2" stroke-dasharray="12 16 9 22 6 17 4 8 13 22 5 19 11 10" stroke-dashoffset="21"/>
<path d="M1290.5,312.9L1296.2,312.9L1313.4,313.3L1328.6,314.4L1343.9,316.7L1359.2,320.8L1374.4,325.2L1389.7,329.3L1404.9,333.0L1420.2,336.3L1435.5,341.5L1446.9,345.3L1462.2,348.3L1481.2,350.5L1496.5,352.6L1511.7,355.7L1527.0,359.5L1542.3,362.6L1557.5,365.1L1576.6,367.4L1595.7,369.3L1606.7,370.1L1606.7,378.6L1595.7,377.8L1576.6,375.9L1557.5,373.6L1542.3,371.6L1527.0,368.5L1511.7,364.7L1496.5,361.6L1481.2,360.0L1462.2,358.3L1446.9,355.3L1435.5,351.5L1420.2,346.8L1404.9,344.0L1389.7,340.8L1374.4,337.2L1359.2,333.3L1343.9,329.7L1328.6,327.4L1313.4,326.3L1296.2,325.9L1290.5,325.9Z" fill="#c8c8c8" stroke="#6c6c6c" stroke-width="1.7"/>
<path d="M1290.5,312.9L1296.2,312.9L1313.4,313.3L1328.6,314.4L1343.9,316.7L1359.2,320.8L1374.4,325.2L1389.7,329.3L1404.9,333.0L1420.2,336.3L1435.5,341.5L1446.9,345.3L1462.2,348.3L1481.2,350.5L1496.5,352.6L1511.7,355.7L1527.0,359.5L1542.3,362.6L1557.5,365.1L1576.6,367.4L1595.7,369.3L1606.7,370.1" fill="none" stroke="#303030" stroke-width="2.2" stroke-dasharray="4 26 12 8 4 18 5 6 10 25 4 17 7 14" stroke-dashoffset="15"/>
<path d="M1290.5,325.9L1296.2,325.9L1313.4,326.3L1328.6,327.4L1343.9,329.7L1359.2,333.3L1374.4,337.2L1389.7,340.8L1404.9,344.0L1420.2,346.8L1435.5,351.5L1446.9,355.3L1462.2,358.3L1481.2,360.0L1496.5,361.6L1511.7,364.7L1527.0,368.5L1542.3,371.6L1557.5,373.6L1576.6,375.9L1595.7,377.8L1606.7,378.6" fill="none" stroke="#303030" stroke-width="2.2" stroke-dasharray="4 26 12 8 4 18 5 6 10 25 4 17 7 14" stroke-dashoffset="26"/>
<path d="M1290.5,305.4L1298.1,294.7L1305.8,284.4L1313.4,267.5L1322.9,250.9L1332.5,240.8L1342.0,235.1L1348.5,244.5L1356.1,258.7L1364.9,266.8L1376.3,269.9L1387.8,274.5L1401.1,281.3L1416.4,288.7L1429.7,294.4L1443.1,300.1L1454.5,302.7L1469.8,298.9L1469.8,307.8L1454.5,311.7L1443.1,309.6L1429.7,303.9L1416.4,298.2L1401.1,290.3L1387.8,283.4L1376.3,278.8L1364.9,275.8L1356.1,267.1L1348.5,252.3L1342.0,243.5L1332.5,249.2L1322.9,260.4L1313.4,278.2L1305.8,295.6L1298.1,305.9L1290.5,316.6Z" fill="#d4d4d4" stroke="#7e7e7e" stroke-width="1.5"/>
<path d="M1290.5,305.4L1298.1,294.7L1305.8,284.4L1313.4,267.5L1322.9,250.9L1332.5,240.8L1342.0,235.1L1348.5,244.5L1356.1,258.7L1364.9,266.8L1376.3,269.9L1387.8,274.5L1401.1,281.3L1416.4,288.7L1429.7,294.4L1443.1,300.1L1454.5,302.7L1469.8,298.9" fill="none" stroke="#303030" stroke-width="2.2" stroke-dasharray="5 21 11 12 5 25 4 18 5 13 6 8 13 15" stroke-dashoffset="20"/>
<path d="M1290.5,316.6L1298.1,305.9L1305.8,295.6L1313.4,278.2L1322.9,260.4L1332.5,249.2L1342.0,243.5L1348.5,252.3L1356.1,267.1L1364.9,275.8L1376.3,278.8L1387.8,283.4L1401.1,290.3L1416.4,298.2L1429.7,303.9L1443.1,309.6L1454.5,311.7L1469.8,307.8" fill="none" stroke="#303030" stroke-width="2.2" stroke-dasharray="5 21 11 12 5 25 4 18 5 13 6 8 13 15" stroke-dashoffset="31"/>
<path d="M1290.5,298.5L1296.2,290.1L1303.9,274.9L1313.4,250.4L1322.9,231.8L1332.5,222.1L1342.0,217.1L1347.7,227.0L1355.3,243.8L1363.0,253.1L1374.4,256.9L1387.8,262.6L1401.1,268.4L1416.4,275.7L1429.7,283.3L1443.1,290.2L1454.5,293.2L1466.0,291.3L1473.6,287.4L1473.6,296.4L1466.0,300.2L1454.5,302.1L1443.1,299.7L1429.7,292.9L1416.4,285.2L1401.1,277.3L1387.8,271.6L1374.4,265.9L1363.0,262.1L1355.3,252.2L1347.7,234.8L1342.0,225.5L1332.5,230.5L1322.9,241.4L1313.4,261.0L1303.9,286.1L1296.2,301.3L1290.5,309.7Z" fill="#d6d6d6" stroke="#828282" stroke-width="1.5"/>
<path d="M1290.5,298.5L1296.2,290.1L1303.9,274.9L1313.4,250.4L1322.9,231.8L1332.5,222.1L1342.0,217.1L1347.7,227.0L1355.3,243.8L1363.0,253.1L1374.4,256.9L1387.8,262.6L1401.1,268.4L1416.4,275.7L1429.7,283.3L1443.1,290.2L1454.5,293.2L1466.0,291.3L1473.6,287.4" fill="none" stroke="#303030" stroke-width="2.2" stroke-dasharray="13 17 11 23 7 11 8 17 7 5 7 24 9 19" stroke-dashoffset="25"/>
<path d="M1290.5,309.7L1296.2,301.3L1303.9,286.1L1313.4,261.0L1322.9,241.4L1332.5,230.5L1342.0,225.5L1347.7,234.8L1355.3,252.2L1363.0,262.1L1374.4,265.9L1387.8,271.6L1401.1,277.3L1416.4,285.2L1429.7,292.9L1443.1,299.7L1454.5,302.1L1466.0,300.2L1473.6,296.4" fill="none" stroke="#303030" stroke-width="2.2" stroke-dasharray="13 17 11 23 7 11 8 17 7 5 7 24 9 19" stroke-dashoffset="36"/>
<path d="M1475.9,284.4L1485.0,281.7L1496.5,277.9L1506.0,280.6L1513.7,287.6L1516.3,295.3L1516.3,305.3L1513.7,297.7L1506.0,289.5L1496.5,286.9L1485.0,290.7L1475.9,293.3Z" fill="#d2d2d2" stroke="#7e7e7e" stroke-width="1.5"/>
<path d="M1475.9,284.4L1485.0,281.7L1496.5,277.9L1506.0,280.6L1513.7,287.6L1516.3,295.3" fill="none" stroke="#303030" stroke-width="2.2" stroke-dasharray="9 20 4 20 10 12 12 6 8 10 11 11 6 7" stroke-dashoffset="30"/>
<path d="M1475.9,293.3L1485.0,290.7L1496.5,286.9L1506.0,289.5L1513.7,297.7L1516.3,305.3" fill="none" stroke="#303030" stroke-width="2.2" stroke-dasharray="9 20 4 20 10 12 12 6 8 10 11 11 6 7" stroke-dashoffset="41"/>
<path d="M1481.2,309.8L1496.5,310.6L1506.0,306.5L1513.7,298.3L1521.3,288.8L1530.8,280.7L1540.4,277.6L1557.5,284.2L1576.6,298.8L1595.7,306.7L1606.7,301.5L1606.7,310.5L1595.7,316.8L1576.6,309.4L1557.5,294.3L1540.4,287.1L1530.8,290.2L1521.3,298.9L1513.7,308.4L1506.0,315.5L1496.5,319.0L1481.2,318.2Z" fill="#d2d2d2" stroke="#7e7e7e" stroke-width="1.5"/>
<path d="M1481.2,309.8L1496.5,310.6L1506.0,306.5L1513.7,298.3L1521.3,288.8L1530.8,280.7L1540.4,277.6L1557.5,284.2L1576.6,298.8L1595.7,306.7L1606.7,301.5" fill="none" stroke="#303030" stroke-width="2.2" stroke-dasharray="12 22 6 10 5 10 13 5 4 9 3 6 7 8" stroke-dashoffset="35"/>
<path d="M1481.2,318.2L1496.5,319.0L1506.0,315.5L1513.7,308.4L1521.3,298.9L1530.8,290.2L1540.4,287.1L1557.5,294.3L1576.6,309.4L1595.7,316.8L1606.7,310.5" fill="none" stroke="#303030" stroke-width="2.2" stroke-dasharray="12 22 6 10 5 10 13 5 4 9 3 6 7 8" stroke-dashoffset="46"/>
<path d="M1475.9,336.8L1488.9,343.8L1500.3,348.5L1509.8,344.9L1519.4,329.0L1528.9,316.0L1538.4,310.0L1549.9,312.7L1561.3,320.1L1576.6,331.5L1591.9,339.1L1601.4,338.3L1606.7,334.0L1606.7,342.9L1601.4,347.8L1591.9,349.2L1576.6,341.6L1561.3,330.1L1549.9,322.2L1538.4,319.6L1528.9,326.6L1519.4,340.2L1509.8,354.9L1500.3,357.4L1488.9,352.2L1475.9,344.7Z" fill="#d4d4d4" stroke="#7e7e7e" stroke-width="1.5"/>
<path d="M1475.9,336.8L1488.9,343.8L1500.3,348.5L1509.8,344.9L1519.4,329.0L1528.9,316.0L1538.4,310.0L1549.9,312.7L1561.3,320.1L1576.6,331.5L1591.9,339.1L1601.4,338.3L1606.7,334.0" fill="none" stroke="#303030" stroke-width="2.2" stroke-dasharray="11 14 3 20 12 23 6 15 13 7 3 5 13 18" stroke-dashoffset="40"/>
<path d="M1475.9,344.7L1488.9,352.2L1500.3,357.4L1509.8,354.9L1519.4,340.2L1528.9,326.6L1538.4,319.6L1549.9,322.2L1561.3,330.1L1576.6,341.6L1591.9,349.2L1601.4,347.8L1606.7,342.9" fill="none" stroke="#303030" stroke-width="2.2" stroke-dasharray="11 14 3 20 12 23 6 15 13 7 3 5 13 18" stroke-dashoffset="51"/>
<path d="M1477.4,248.5L1492.7,248.5L1504.1,250.9L1515.6,260.7L1527.0,272.1L1542.3,281.9L1557.5,289.5L1576.6,304.5L1591.9,312.4L1603.3,310.8L1606.7,308.8L1606.7,317.8L1603.3,320.3L1591.9,322.5L1576.6,315.2L1557.5,299.6L1542.3,292.0L1527.0,282.7L1515.6,271.3L1504.1,260.4L1492.7,257.5L1477.4,257.5Z" fill="#d0d0d0" stroke="#787878" stroke-width="1.6"/>
<path d="M1477.4,248.5L1492.7,248.5L1504.1,250.9L1515.6,260.7L1527.0,272.1L1542.3,281.9L1557.5,289.5L1576.6,304.5L1591.9,312.4L1603.3,310.8L1606.7,308.8" fill="none" stroke="#303030" stroke-width="2.2" stroke-dasharray="4 14 10 7 4 17 5 19 8 20 13 9 13 21" stroke-dashoffset="45"/>
<path d="M1477.4,257.5L1492.7,257.5L1504.1,260.4L1515.6,271.3L1527.0,282.7L1542.3,292.0L1557.5,299.6L1576.6,315.2L1591.9,322.5L1603.3,320.3L1606.7,317.8" fill="none" stroke="#303030" stroke-width="2.2" stroke-dasharray="4 14 10 7 4 17 5 19 8 20 13 9 13 21" stroke-dashoffset="56"/>
<path d="M1290.5,263.2L1296.2,252.5L1305.8,227.7L1315.3,197.5L1322.9,183.1L1332.5,176.3L1342.0,172.5L1347.7,182.8L1355.3,199.7L1363.0,213.0L1374.4,219.6L1387.8,227.0L1401.1,235.7L1416.4,245.3L1429.7,253.7L1443.1,262.8L1450.7,266.6L1462.2,266.6L1472.8,261.3L1472.8,269.1L1462.2,274.5L1450.7,274.5L1443.1,270.7L1429.7,261.5L1416.4,253.1L1401.1,243.6L1387.8,234.8L1374.4,226.9L1363.0,219.7L1355.3,206.4L1347.7,188.9L1342.0,178.7L1332.5,182.5L1322.9,190.9L1315.3,207.0L1305.8,237.8L1296.2,262.6L1290.5,273.3Z" fill="#d0d0d0" stroke="#7a7a7a" stroke-width="1.5"/>
<path d="M1290.5,263.2L1296.2,252.5L1305.8,227.7L1315.3,197.5L1322.9,183.1L1332.5,176.3L1342.0,172.5L1347.7,182.8L1355.3,199.7L1363.0,213.0L1374.4,219.6L1387.8,227.0L1401.1,235.7L1416.4,245.3L1429.7,253.7L1443.1,262.8L1450.7,266.6L1462.2,266.6L1472.8,261.3" fill="none" stroke="#303030" stroke-width="2.2" stroke-dasharray="9 12 9 9 9 26 8 12 9 5 10 16 4 20" stroke-dashoffset="50"/>
<path d="M1290.5,273.3L1296.2,262.6L1305.8,237.8L1315.3,207.0L1322.9,190.9L1332.5,182.5L1342.0,178.7L1347.7,188.9L1355.3,206.4L1363.0,219.7L1374.4,226.9L1387.8,234.8L1401.1,243.6L1416.4,253.1L1429.7,261.5L1443.1,270.7L1450.7,274.5L1462.2,274.5L1472.8,269.1" fill="none" stroke="#303030" stroke-width="2.2" stroke-dasharray="9 12 9 9 9 26 8 12 9 5 10 16 4 20" stroke-dashoffset="61"/>
<path d="M1477.4,240.3L1492.7,238.0L1504.1,235.4L1513.7,229.7L1523.2,224.7L1540.4,220.0L1549.9,225.1L1559.4,234.1L1569.0,247.1L1580.4,262.7L1591.9,270.1L1601.4,270.7L1606.7,266.3L1606.7,274.1L1601.4,279.6L1591.9,280.2L1580.4,273.9L1569.0,258.9L1559.4,245.3L1549.9,235.2L1540.4,229.5L1523.2,234.8L1513.7,239.7L1504.1,245.5L1492.7,248.1L1477.4,250.4Z" fill="#cccccc" stroke="#646464" stroke-width="1.8"/>
<path d="M1477.4,240.3L1492.7,238.0L1504.1,235.4L1513.7,229.7L1523.2,224.7L1540.4,220.0L1549.9,225.1L1559.4,234.1L1569.0,247.1L1580.4,262.7L1591.9,270.1L1601.4,270.7L1606.7,266.3" fill="none" stroke="#303030" stroke-width="2.2" stroke-dasharray="8 8 12 13 4 21 6 5 4 17 13 15 11 20" stroke-dashoffset="55"/>
<path d="M1477.4,250.4L1492.7,248.1L1504.1,245.5L1513.7,239.7L1523.2,234.8L1540.4,229.5L1549.9,235.2L1559.4,245.3L1569.0,258.9L1580.4,273.9L1591.9,280.2L1601.4,279.6L1606.7,274.1" fill="none" stroke="#303030" stroke-width="2.2" stroke-dasharray="8 8 12 13 4 21 6 5 4 17 13 15 11 20" stroke-dashoffset="66"/>
<path d="M1478.9,223.5L1498.4,222.7L1509.5,217.4L1519.4,210.5L1539.6,205.2L1556.4,218.3L1572.4,243.5L1585.4,255.4L1597.6,262.1L1606.7,257.8L1606.7,263.4L1597.6,268.3L1585.4,262.1L1572.4,250.3L1556.4,224.4L1539.6,210.8L1519.4,216.1L1509.5,223.0L1498.4,228.3L1478.9,229.1Z" fill="#d8d8d8" stroke="#8a8a8a" stroke-width="1.3"/>
<path d="M1478.9,223.5L1498.4,222.7L1509.5,217.4L1519.4,210.5L1539.6,205.2L1556.4,218.3L1572.4,243.5L1585.4,255.4L1597.6,262.1L1606.7,257.8" fill="none" stroke="#303030" stroke-width="2.2" stroke-dasharray="13 10 6 13 9 5 5 8 5 17 6 8 6 18" stroke-dashoffset="60"/>
<path d="M1478.9,229.1L1498.4,228.3L1509.5,223.0L1519.4,216.1L1539.6,210.8L1556.4,224.4L1572.4,250.3L1585.4,262.1L1597.6,268.3L1606.7,263.4" fill="none" stroke="#303030" stroke-width="2.2" stroke-dasharray="13 10 6 13 9 5 5 8 5 17 6 8 6 18" stroke-dashoffset="71"/>
<path d="M1290.5,249.9L1296.2,239.2L1305.8,214.4L1315.3,184.6L1321.0,175.3L1321.0,184.2L1315.3,194.7L1305.8,224.5L1296.2,249.3L1290.5,260.0Z" fill="#d6d6d6" stroke="#888888" stroke-width="1.4"/>
<path d="M1290.5,249.9L1296.2,239.2L1305.8,214.4L1315.3,184.6L1321.0,175.3" fill="none" stroke="#303030" stroke-width="2.2" stroke-dasharray="13 5 6 23 10 18 11 15 12 17 9 13 9 6" stroke-dashoffset="65"/>
<path d="M1290.5,260.0L1296.2,249.3L1305.8,224.5L1315.3,194.7L1321.0,184.2" fill="none" stroke="#303030" stroke-width="2.2" stroke-dasharray="13 5 6 23 10 18 11 15 12 17 9 13 9 6" stroke-dashoffset="76"/>
<path d="M1314.2,189.0L1322.9,174.1L1332.5,167.1L1342.0,162.7L1347.0,175.1L1353.4,189.5L1361.1,203.2L1372.5,211.0L1385.9,218.2L1401.1,226.8L1416.4,234.9L1429.7,243.7L1443.1,253.3L1450.7,258.2L1462.2,258.5L1472.8,254.3L1475.9,247.4L1475.9,256.4L1472.8,262.3L1462.2,266.5L1450.7,266.2L1443.1,263.3L1429.7,254.7L1416.4,245.9L1401.1,235.8L1385.9,225.2L1372.5,216.5L1361.1,208.2L1353.4,194.5L1347.0,180.6L1342.0,173.2L1332.5,175.6L1322.9,181.6L1314.2,195.0Z" fill="#6e6e6e" stroke="#4a4a4a" stroke-width="1.2"/>
<path d="M1477.4,205.7L1498.4,205.3L1509.5,203.6L1519.4,196.5L1539.6,195.5L1556.4,207.8L1572.4,231.0L1585.4,244.1L1597.6,252.0L1606.7,248.5L1606.7,256.0L1597.6,262.5L1585.4,255.1L1572.4,243.0L1556.4,217.3L1539.6,203.0L1519.4,208.0L1509.5,214.6L1498.4,219.8L1477.4,220.2Z" fill="#5e5e5e" stroke="#404040" stroke-width="1.2"/>
<rect x="980.8" y="390" width="169.2" height="18" fill="#7c7c7c"/>
<path d="M980.8,391.5H1150.0M980.8,406.5H1150.0" fill="none" stroke="#5c5c5c" stroke-width="2.5" stroke-dasharray="60 18 40 12"/>
<path d="M1020.8,399H1150.0" fill="none" stroke="#b0b0b0" stroke-width="3" stroke-dasharray="35 45 60 30"/>
<rect x="1150.0" y="389.5" width="165.0" height="19.5" fill="#c2c2c2"/>
<path d="M1150.0,391.7H1315.0" fill="none" stroke="#555555" stroke-width="4.2" stroke-dasharray="90 12 60 8"/>
<path d="M1150.0,399.3H1315.0" fill="none" stroke="#666666" stroke-width="3.6" stroke-dasharray="50 20 80 15"/>
<path d="M1150.0,406.6H1315.0" fill="none" stroke="#585858" stroke-width="4.2" stroke-dasharray="70 10 40 14"/>
<rect x="1315.0" y="390" width="150.5" height="18" fill="#7c7c7c"/>
<path d="M1315.0,391.5H1465.5M1315.0,406.5H1465.5" fill="none" stroke="#5c5c5c" stroke-width="2.5" stroke-dasharray="60 18 40 12"/>
<path d="M1355.0,399H1465.5" fill="none" stroke="#b0b0b0" stroke-width="3" stroke-dasharray="35 45 60 30"/>
<rect x="1465.5" y="389.5" width="165.0" height="19.5" fill="#c2c2c2"/>
<path d="M1465.5,391.7H1630.5" fill="none" stroke="#555555" stroke-width="4.2" stroke-dasharray="90 12 60 8"/>
<path d="M1465.5,399.3H1630.5" fill="none" stroke="#666666" stroke-width="3.6" stroke-dasharray="50 20 80 15"/>
<path d="M1465.5,406.6H1630.5" fill="none" stroke="#585858" stroke-width="4.2" stroke-dasharray="70 10 40 14"/>
</g></g>
<g fill="#222222">
<rect x="974.9" y="106.1" width="633.0000000000001" height="7.700000000000003"/>
<rect x="974.9" y="691.8" width="633.0000000000001" height="5.300000000000068"/>
<rect x="974.9" y="106.1" width="5.899999999999977" height="591.0"/>
<rect x="1602.2" y="106.1" width="5.7000000000000455" height="591.0"/>
<rect x="1036.0" y="670" width="12.2" height="24"/>
<rect x="1097.8" y="670" width="12.2" height="24"/>
<rect x="1163.2" y="670" width="12.2" height="24"/>
<rect x="1225.0" y="670" width="12.2" height="24"/>
<rect x="1288.1" y="670" width="12.2" height="24"/>
<rect x="1349.7" y="670" width="12.2" height="24"/>
<rect x="1415.3" y="670" width="12.2" height="24"/>
<rect x="1476.6" y="670" width="12.2" height="24"/>
<rect x="1542.3" y="670" width="12.2" height="24"/>
<rect x="978" y="201.6" width="26" height="12.6"/>
<rect x="978" y="301.5" width="26" height="12.6"/>
<rect x="978" y="392.9" width="26" height="12.6"/>
<rect x="978" y="493.4" width="26" height="12.6"/>
<rect x="978" y="594.7" width="26" height="12.6"/>
</g>
<text transform="translate(927.60,121.80) scale(0.9700,1)" font-size="32.58" stroke="#222222" stroke-width="0.45" fill="#222222">30</text>
<text transform="translate(927.60,222.60) scale(0.9700,1)" font-size="32.58" stroke="#222222" stroke-width="0.45" fill="#222222">20</text>
<text transform="translate(927.60,318.80) scale(0.9700,1)" font-size="32.58" stroke="#222222" stroke-width="0.45" fill="#222222">10</text>
<text transform="translate(945.14,411.20) scale(0.9700,1)" font-size="32.58" stroke="#222222" stroke-width="0.45" fill="#222222">0</text>
<text transform="translate(917.02,510.30) scale(0.9700,1)" font-size="32.58" stroke="#222222" stroke-width="0.45" fill="#222222">-10</text>
<text transform="translate(917.02,610.50) scale(0.9700,1)" font-size="32.58" stroke="#222222" stroke-width="0.45" fill="#222222">-20</text>
<text transform="translate(917.02,705.40) scale(0.9700,1)" font-size="32.58" stroke="#222222" stroke-width="0.45" fill="#222222">-30</text>
<text transform="translate(968.85,731.50) scale(0.9700,1)" font-size="32.00" stroke="#222222" stroke-width="0.45" fill="#222222">0</text>
<text transform="translate(1080.26,731.50) scale(1.0300,1)" font-size="32.00" stroke="#222222" stroke-width="0.45" fill="#222222">0.2</text>
<text transform="translate(1206.69,731.50) scale(1.0300,1)" font-size="32.00" stroke="#222222" stroke-width="0.45" fill="#222222">0.4</text>
<text transform="translate(1333.13,731.50) scale(1.0300,1)" font-size="32.00" stroke="#222222" stroke-width="0.45" fill="#222222">0.6</text>
<text transform="translate(1459.63,731.50) scale(1.0300,1)" font-size="32.00" stroke="#222222" stroke-width="0.45" fill="#222222">0.8</text>
<text transform="translate(1582.47,731.50) scale(1.0300,1)" font-size="32.00" stroke="#222222" stroke-width="0.45" fill="#222222">1.0</text>
<text transform="translate(1216.47,776.30) scale(0.9463,1)" font-size="39.13" stroke="#222222" stroke-width="0.45" fill="#222222">Time (ns)</text>
<text transform="translate(890.80,568.84) rotate(-90) scale(1.0311,1)" font-size="34.62" stroke="#222222" stroke-width="0.45" fill="#222222">Received signal (mV)</text>
<text font-size="26.18" stroke="#222222" stroke-width="0.45" fill="#222222"><tspan x="1348.93" y="142.7" textLength="90.18" lengthAdjust="spacingAndGlyphs">PRBS2</tspan><tspan x="1439.66" y="133.9" font-size="13.38" textLength="15.95" lengthAdjust="spacingAndGlyphs">31</tspan><tspan x="1455.75" y="142.7" textLength="127.0" lengthAdjust="spacingAndGlyphs">-1@2Gb/s</tspan></text>
</svg></body></html>
